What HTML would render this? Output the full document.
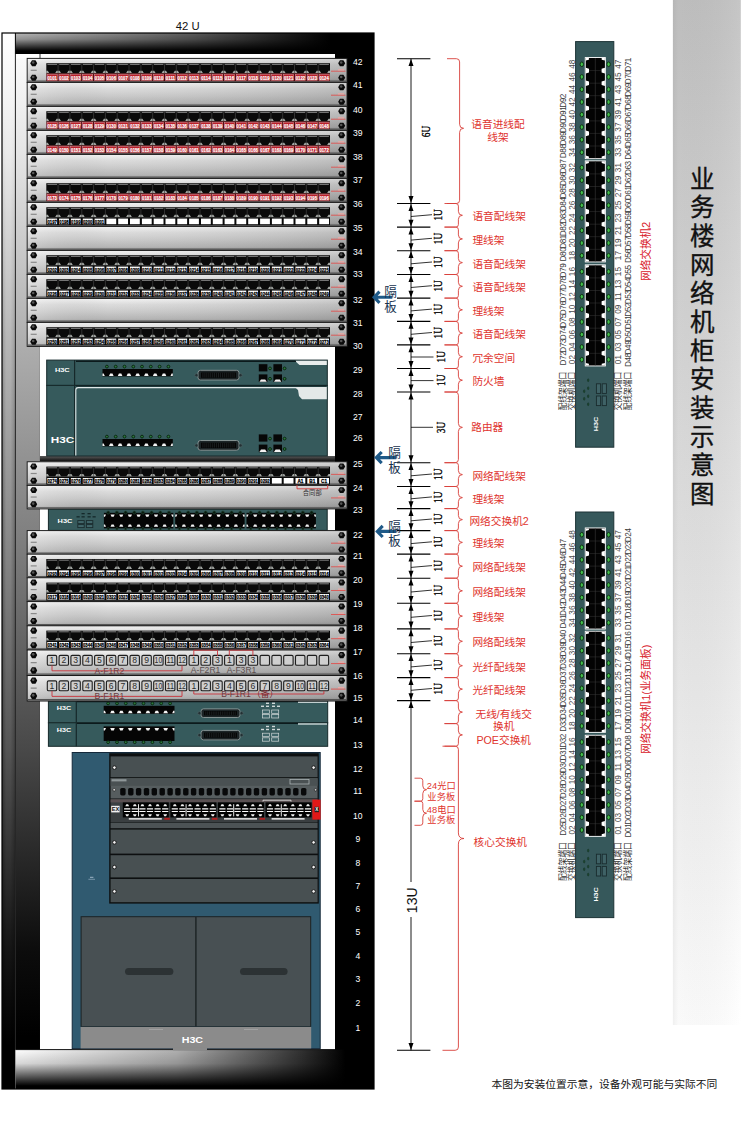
<!DOCTYPE html>
<html><head><meta charset="utf-8"><title>rack</title>
<style>
html,body{margin:0;padding:0;background:#fff}
body{width:742px;height:1122px;overflow:hidden;font-family:"Liberation Sans",sans-serif}
svg{display:block}
text{font-family:"Liberation Sans",sans-serif;text-anchor:middle}
.rn{font-size:8.6px;fill:#fff}
.tu{font-size:11.3px;fill:#111}
.lr{font-size:6px;font-weight:bold;fill:#fff;stroke:#fff;stroke-width:.2px}
.lw{font-size:6px;font-weight:bold;fill:#000;stroke:#000;stroke-width:.3px}
.fn{font-size:8.6px;fill:#2c2c2c}
.fq{fill:#cfcfcf;stroke:#1e1e1e;stroke-width:1.1}
.fl{font-size:8.6px;fill:#6a3c40}
.h3{font-weight:bold;fill:#fff}
.ex{font-size:5.6px;font-weight:bold;fill:#111}
.dl{fill:#0a1a10;stroke:#274a35;stroke-width:.6}
.sl{fill:#43c04c;stroke:#0b2a0e;stroke-width:.9}
.du{font-family:"Liberation Serif",serif;font-size:12.5px;fill:#000;stroke:#000;stroke-width:.35px}
.d13{font-size:14px;fill:#111}
.sn{font-size:8.2px;fill:#4a4a4a}
.sd{font-size:8.2px;fill:#3c3c3c;letter-spacing:-.45px}
.cj{font-family:"Liberation Sans","Noto Sans CJK SC",sans-serif}
.rs{font-family:"Liberation Sans","Noto Sans CJK SC",sans-serif;font-size:10.7px;fill:#e0342e;text-anchor:start}
.rm{font-family:"Liberation Sans","Noto Sans CJK SC",sans-serif;font-size:10.7px;fill:#e0342e}
.r9{font-family:"Liberation Sans","Noto Sans CJK SC",sans-serif;font-size:9.3px;fill:#e0342e}
.gb{font-family:"Liberation Sans","Noto Sans CJK SC",sans-serif;font-size:12.6px;fill:#16324e}
.sp{font-family:"Liberation Sans","Noto Sans CJK SC",sans-serif;font-size:8.8px;fill:#333}
</style></head><body>
<svg width="742" height="1122" viewBox="0 0 742 1122">
<defs>

<linearGradient id="gPanel" x1="0" y1="0" x2="0" y2="1">
<stop offset="0" stop-color="#f4f4f4"/><stop offset=".25" stop-color="#dcdcdc"/><stop offset=".55" stop-color="#cbcbcb"/><stop offset=".85" stop-color="#b6b6b6"/><stop offset="1" stop-color="#9c9c9c"/></linearGradient>
<linearGradient id="gPanelH" x1="0" y1="0" x2="1" y2="0">
<stop offset="0" stop-color="#fff" stop-opacity=".25"/><stop offset=".25" stop-color="#888" stop-opacity="0"/><stop offset="1" stop-color="#000" stop-opacity=".14"/></linearGradient>
<linearGradient id="gCyl" x1="0" y1="0" x2="1" y2="0">
<stop offset="0" stop-color="#000" stop-opacity=".3"/><stop offset=".3" stop-color="#000" stop-opacity="0"/><stop offset=".65" stop-color="#000" stop-opacity="0"/><stop offset="1" stop-color="#000" stop-opacity=".25"/></linearGradient>
<linearGradient id="gMaskV" gradientUnits="userSpaceOnUse" x1="0" y1="100" x2="0" y2="520">
<stop offset="0" stop-color="#000"/><stop offset="1" stop-color="#fff"/></linearGradient>
<mask id="mCyl" maskUnits="userSpaceOnUse" x="0" y="0" width="20" height="1122"><rect x="0" y="0" width="20" height="1122" fill="url(#gMaskV)"/></mask>
<linearGradient id="gLeft" gradientUnits="userSpaceOnUse" x1="0" y1="33" x2="0" y2="1089">
<stop offset="0" stop-color="#fff"/><stop offset=".11" stop-color="#ebebeb"/><stop offset=".3" stop-color="#b4b4b4"/><stop offset=".49" stop-color="#868686"/><stop offset=".68" stop-color="#545454"/><stop offset=".87" stop-color="#141414"/><stop offset=".96" stop-color="#000"/></linearGradient>
<linearGradient id="gRail" gradientUnits="userSpaceOnUse" x1="0" y1="33" x2="0" y2="1089">
<stop offset="0" stop-color="#fff"/><stop offset=".11" stop-color="#e6e6e6"/><stop offset=".3" stop-color="#acacac"/><stop offset=".49" stop-color="#7c7c7c"/><stop offset=".68" stop-color="#484848"/><stop offset=".87" stop-color="#0c0c0c"/><stop offset=".95" stop-color="#000"/></linearGradient>
<linearGradient id="gTopH" gradientUnits="userSpaceOnUse" x1="15" y1="0" x2="374" y2="0">
<stop offset="0" stop-color="#b8b8b8"/><stop offset=".5" stop-color="#5a5a5a"/><stop offset=".88" stop-color="#000"/></linearGradient>
<linearGradient id="gTopV" x1="0" y1="0" x2="0" y2="1">
<stop offset="0" stop-color="#000" stop-opacity="0"/><stop offset=".3" stop-color="#000" stop-opacity=".2"/><stop offset=".85" stop-color="#000" stop-opacity="1"/></linearGradient>
<linearGradient id="gBotH" gradientUnits="userSpaceOnUse" x1="15" y1="0" x2="374" y2="0">
<stop offset="0" stop-color="#fff"/><stop offset=".45" stop-color="#b0b0b0"/><stop offset=".8" stop-color="#303030"/><stop offset=".92" stop-color="#000"/></linearGradient>
<linearGradient id="gBotV" x1="0" y1="0" x2="0" y2="1">
<stop offset="0" stop-color="#000" stop-opacity="0"/><stop offset=".35" stop-color="#000" stop-opacity=".15"/><stop offset=".65" stop-color="#000" stop-opacity=".6"/><stop offset=".92" stop-color="#000" stop-opacity="1"/></linearGradient>
<linearGradient id="gTitleH" x1="0" y1="0" x2="0" y2="1">
<stop offset="0" stop-color="#c1c1c1"/><stop offset="1" stop-color="#fff"/></linearGradient>
<linearGradient id="gTitleV" x1="0" y1="0" x2="1" y2="0">
<stop offset="0" stop-color="#000" stop-opacity=".06"/><stop offset=".08" stop-color="#000" stop-opacity=".02"/><stop offset="1" stop-color="#fff" stop-opacity=".08"/></linearGradient>
<linearGradient id="gShelf" x1="0" y1="0" x2="0" y2="1">
<stop offset="0" stop-color="#5a5a5a"/><stop offset="1" stop-color="#0a0a0a"/></linearGradient>

<g id="pb">
<rect x="27.2" y="0" width="319.8" height="24" fill="url(#gPanel)" stroke="#1a1a1a"/>
<rect x="27.7" y="0.5" width="318.8" height="23" fill="url(#gPanelH)"/>
<path d="M27.7 22.8L346.5 22.8" stroke="#555" stroke-width="1.2" />
<path d="M37.2 4.8L35.5 7.8L32 7.8L30.2 4.8L32 1.8L35.5 1.8z" fill="#0a0a0a" />
<circle cx="33.2" cy="4.1" r="1.3" fill="#555"/>
<path d="M37.2 19.3L35.5 22.3L32 22.3L30.2 19.3L32 16.3L35.5 16.3z" fill="#0a0a0a" />
<circle cx="33.2" cy="18.6" r="1.3" fill="#555"/>
<path d="M345.2 4.8L343.4 7.8L339.9 7.8L338.2 4.8L339.9 1.8L343.4 1.8z" fill="#0a0a0a" />
<circle cx="341.2" cy="4.1" r="1.3" fill="#555"/>
<path d="M345.2 19.3L343.4 22.3L339.9 22.3L338.2 19.3L339.9 16.3L343.4 16.3z" fill="#0a0a0a" />
<circle cx="341.2" cy="18.6" r="1.3" fill="#555"/>
<rect x="30.7" y="11.3" width="6" height="1.2" fill="#8a8a8a"/>
<path d="M331 12.8L345.5 12.8" stroke="#e0504e" stroke-width="0.9" />
<rect x="338" y="10.8" width="6" height="1.2" fill="#e9a9a6"/>
</g>
<g id="pp">
<rect x="46.3" y="4.8" width="283.7" height="10" fill="#0a0a0a"/>
<path d="M47.4 6h9.6M59.2 6h9.6M71 6h9.6M82.9 6h9.6M94.7 6h9.6M106.5 6h9.6M118.3 6h9.6M130.1 6h9.6M142 6h9.6M153.8 6h9.6M165.6 6h9.6M177.4 6h9.6M189.2 6h9.6M201.1 6h9.6M212.9 6h9.6M224.7 6h9.6M236.5 6h9.6M248.3 6h9.6M260.2 6h9.6M272 6h9.6M283.8 6h9.6M295.6 6h9.6M307.4 6h9.6M319.3 6h9.6" stroke="#8f8f8f" stroke-width="0.9"/>
<path d="M46.3 14.8L46.3 12.3L47.8 12.3L49.3 14.8zM55.1 14.8L56.6 12.3L59.6 12.3L61.1 14.8zM66.9 14.8L68.4 12.3L71.4 12.3L72.9 14.8zM78.8 14.8L80.3 12.3L83.3 12.3L84.8 14.8zM90.6 14.8L92.1 12.3L95.1 12.3L96.6 14.8zM102.4 14.8L103.9 12.3L106.9 12.3L108.4 14.8zM114.2 14.8L115.7 12.3L118.7 12.3L120.2 14.8zM126 14.8L127.5 12.3L130.5 12.3L132 14.8zM137.9 14.8L139.4 12.3L142.4 12.3L143.9 14.8zM149.7 14.8L151.2 12.3L154.2 12.3L155.7 14.8zM161.5 14.8L163 12.3L166 12.3L167.5 14.8zM173.3 14.8L174.8 12.3L177.8 12.3L179.3 14.8zM185.1 14.8L186.6 12.3L189.6 12.3L191.1 14.8zM197 14.8L198.5 12.3L201.5 12.3L203 14.8zM208.8 14.8L210.3 12.3L213.3 12.3L214.8 14.8zM220.6 14.8L222.1 12.3L225.1 12.3L226.6 14.8zM232.4 14.8L233.9 12.3L236.9 12.3L238.4 14.8zM244.2 14.8L245.7 12.3L248.7 12.3L250.2 14.8zM256.1 14.8L257.6 12.3L260.6 12.3L262.1 14.8zM267.9 14.8L269.4 12.3L272.4 12.3L273.9 14.8zM279.7 14.8L281.2 12.3L284.2 12.3L285.7 14.8zM291.5 14.8L293 12.3L296 12.3L297.5 14.8zM303.3 14.8L304.8 12.3L307.8 12.3L309.3 14.8zM315.2 14.8L316.7 12.3L319.7 12.3L321.2 14.8zM327 14.8L328.5 12.3L330 12.3L330 14.8z" fill="#a4a8a4"/>
<path d="M58.1 5v9.8M69.9 5v9.8M81.8 5v9.8M93.6 5v9.8M105.4 5v9.8M117.2 5v9.8M129 5v9.8M140.9 5v9.8M152.7 5v9.8M164.5 5v9.8M176.3 5v9.8M188.1 5v9.8M200 5v9.8M211.8 5v9.8M223.6 5v9.8M235.4 5v9.8M247.2 5v9.8M259.1 5v9.8M270.9 5v9.8M282.7 5v9.8M294.5 5v9.8M306.3 5v9.8M318.2 5v9.8" stroke="#444" stroke-width="0.7"/>
</g>
<g id="rl">
<rect x="46.3" y="14.8" width="283.7" height="8" fill="#4a0a0e"/>
<rect x="47.1" y="16" width="10.2" height="6" fill="#bb1f2a" stroke="#e89aa0" stroke-width=".5"/>
<rect x="58.9" y="16" width="10.2" height="6" fill="#bb1f2a" stroke="#e89aa0" stroke-width=".5"/>
<rect x="70.7" y="16" width="10.2" height="6" fill="#bb1f2a" stroke="#e89aa0" stroke-width=".5"/>
<rect x="82.6" y="16" width="10.2" height="6" fill="#bb1f2a" stroke="#e89aa0" stroke-width=".5"/>
<rect x="94.4" y="16" width="10.2" height="6" fill="#bb1f2a" stroke="#e89aa0" stroke-width=".5"/>
<rect x="106.2" y="16" width="10.2" height="6" fill="#bb1f2a" stroke="#e89aa0" stroke-width=".5"/>
<rect x="118" y="16" width="10.2" height="6" fill="#bb1f2a" stroke="#e89aa0" stroke-width=".5"/>
<rect x="129.8" y="16" width="10.2" height="6" fill="#bb1f2a" stroke="#e89aa0" stroke-width=".5"/>
<rect x="141.7" y="16" width="10.2" height="6" fill="#bb1f2a" stroke="#e89aa0" stroke-width=".5"/>
<rect x="153.5" y="16" width="10.2" height="6" fill="#bb1f2a" stroke="#e89aa0" stroke-width=".5"/>
<rect x="165.3" y="16" width="10.2" height="6" fill="#bb1f2a" stroke="#e89aa0" stroke-width=".5"/>
<rect x="177.1" y="16" width="10.2" height="6" fill="#bb1f2a" stroke="#e89aa0" stroke-width=".5"/>
<rect x="188.9" y="16" width="10.2" height="6" fill="#bb1f2a" stroke="#e89aa0" stroke-width=".5"/>
<rect x="200.8" y="16" width="10.2" height="6" fill="#bb1f2a" stroke="#e89aa0" stroke-width=".5"/>
<rect x="212.6" y="16" width="10.2" height="6" fill="#bb1f2a" stroke="#e89aa0" stroke-width=".5"/>
<rect x="224.4" y="16" width="10.2" height="6" fill="#bb1f2a" stroke="#e89aa0" stroke-width=".5"/>
<rect x="236.2" y="16" width="10.2" height="6" fill="#bb1f2a" stroke="#e89aa0" stroke-width=".5"/>
<rect x="248" y="16" width="10.2" height="6" fill="#bb1f2a" stroke="#e89aa0" stroke-width=".5"/>
<rect x="259.9" y="16" width="10.2" height="6" fill="#bb1f2a" stroke="#e89aa0" stroke-width=".5"/>
<rect x="271.7" y="16" width="10.2" height="6" fill="#bb1f2a" stroke="#e89aa0" stroke-width=".5"/>
<rect x="283.5" y="16" width="10.2" height="6" fill="#bb1f2a" stroke="#e89aa0" stroke-width=".5"/>
<rect x="295.3" y="16" width="10.2" height="6" fill="#bb1f2a" stroke="#e89aa0" stroke-width=".5"/>
<rect x="307.1" y="16" width="10.2" height="6" fill="#bb1f2a" stroke="#e89aa0" stroke-width=".5"/>
<rect x="319" y="16" width="10.2" height="6" fill="#bb1f2a" stroke="#e89aa0" stroke-width=".5"/>
</g>
<g id="wl">
<rect x="46.3" y="14.8" width="283.7" height="8" fill="#0a0a0a"/>
<rect x="47.3" y="16.2" width="9.8" height="5.6" fill="#fff"/>
<rect x="59.1" y="16.2" width="9.8" height="5.6" fill="#fff"/>
<rect x="70.9" y="16.2" width="9.8" height="5.6" fill="#fff"/>
<rect x="82.8" y="16.2" width="9.8" height="5.6" fill="#fff"/>
<rect x="94.6" y="16.2" width="9.8" height="5.6" fill="#fff"/>
<rect x="106.4" y="16.2" width="9.8" height="5.6" fill="#fff"/>
<rect x="118.2" y="16.2" width="9.8" height="5.6" fill="#fff"/>
<rect x="130" y="16.2" width="9.8" height="5.6" fill="#fff"/>
<rect x="141.9" y="16.2" width="9.8" height="5.6" fill="#fff"/>
<rect x="153.7" y="16.2" width="9.8" height="5.6" fill="#fff"/>
<rect x="165.5" y="16.2" width="9.8" height="5.6" fill="#fff"/>
<rect x="177.3" y="16.2" width="9.8" height="5.6" fill="#fff"/>
<rect x="189.1" y="16.2" width="9.8" height="5.6" fill="#fff"/>
<rect x="201" y="16.2" width="9.8" height="5.6" fill="#fff"/>
<rect x="212.8" y="16.2" width="9.8" height="5.6" fill="#fff"/>
<rect x="224.6" y="16.2" width="9.8" height="5.6" fill="#fff"/>
<rect x="236.4" y="16.2" width="9.8" height="5.6" fill="#fff"/>
<rect x="248.2" y="16.2" width="9.8" height="5.6" fill="#fff"/>
<rect x="260.1" y="16.2" width="9.8" height="5.6" fill="#fff"/>
<rect x="271.9" y="16.2" width="9.8" height="5.6" fill="#fff"/>
<rect x="283.7" y="16.2" width="9.8" height="5.6" fill="#fff"/>
<rect x="295.5" y="16.2" width="9.8" height="5.6" fill="#fff"/>
<rect x="307.3" y="16.2" width="9.8" height="5.6" fill="#fff"/>
<rect x="319.2" y="16.2" width="9.8" height="5.6" fill="#fff"/>
</g>
<g id="led">
<circle r="1.4" fill="#2a7a3c" stroke="#08200c" stroke-width=".9"/>
</g>
<g id="sw">
<rect x="575.6" y="0" width="38.2" height="405.6" fill="#36585b" stroke="#1d3336"/>
<rect x="584.8" y="15.5" width="21" height="102" fill="#fff"/>
<rect x="585.7" y="16.4" width="19.2" height="100.2" fill="#030303"/>
<path d="M595.3 16.5L595.3 116.5" stroke="#333" stroke-width="0.7" />
<ellipse cx="581.8" cy="22.7" rx="1.7" ry="2.3" class="sl"/>
<ellipse cx="608.6" cy="22.7" rx="1.7" ry="2.3" class="sl"/>
<text transform="translate(572 22.7) rotate(-90)" y="2.9" class="sn" >48</text>
<text transform="translate(618.2 22.7) rotate(-90)" y="2.9" class="sn" >47</text>
<ellipse cx="581.8" cy="35.3" rx="1.7" ry="2.3" class="sl"/>
<ellipse cx="608.6" cy="35.3" rx="1.7" ry="2.3" class="sl"/>
<text transform="translate(572 35.3) rotate(-90)" y="2.9" class="sn" >46</text>
<text transform="translate(618.2 35.3) rotate(-90)" y="2.9" class="sn" >45</text>
<ellipse cx="581.8" cy="47.8" rx="1.7" ry="2.3" class="sl"/>
<ellipse cx="608.6" cy="47.8" rx="1.7" ry="2.3" class="sl"/>
<text transform="translate(572 47.8) rotate(-90)" y="2.9" class="sn" >44</text>
<text transform="translate(618.2 47.8) rotate(-90)" y="2.9" class="sn" >43</text>
<ellipse cx="581.8" cy="60.4" rx="1.7" ry="2.3" class="sl"/>
<ellipse cx="608.6" cy="60.4" rx="1.7" ry="2.3" class="sl"/>
<text transform="translate(572 60.4) rotate(-90)" y="2.9" class="sn" >42</text>
<text transform="translate(618.2 60.4) rotate(-90)" y="2.9" class="sn" >41</text>
<ellipse cx="581.8" cy="73" rx="1.7" ry="2.3" class="sl"/>
<ellipse cx="608.6" cy="73" rx="1.7" ry="2.3" class="sl"/>
<text transform="translate(572 73) rotate(-90)" y="2.9" class="sn" >40</text>
<text transform="translate(618.2 73) rotate(-90)" y="2.9" class="sn" >39</text>
<ellipse cx="581.8" cy="85.5" rx="1.7" ry="2.3" class="sl"/>
<ellipse cx="608.6" cy="85.5" rx="1.7" ry="2.3" class="sl"/>
<text transform="translate(572 85.5) rotate(-90)" y="2.9" class="sn" >38</text>
<text transform="translate(618.2 85.5) rotate(-90)" y="2.9" class="sn" >37</text>
<ellipse cx="581.8" cy="98.1" rx="1.7" ry="2.3" class="sl"/>
<ellipse cx="608.6" cy="98.1" rx="1.7" ry="2.3" class="sl"/>
<text transform="translate(572 98.1) rotate(-90)" y="2.9" class="sn" >36</text>
<text transform="translate(618.2 98.1) rotate(-90)" y="2.9" class="sn" >35</text>
<ellipse cx="581.8" cy="110.7" rx="1.7" ry="2.3" class="sl"/>
<ellipse cx="608.6" cy="110.7" rx="1.7" ry="2.3" class="sl"/>
<text transform="translate(572 110.7) rotate(-90)" y="2.9" class="sn" >34</text>
<text transform="translate(618.2 110.7) rotate(-90)" y="2.9" class="sn" >33</text>
<rect x="584.8" y="118.8" width="21" height="102" fill="#fff"/>
<rect x="585.7" y="119.7" width="19.2" height="100.2" fill="#030303"/>
<path d="M595.3 119.8L595.3 219.8" stroke="#333" stroke-width="0.7" />
<ellipse cx="581.8" cy="126" rx="1.7" ry="2.3" class="sl"/>
<ellipse cx="608.6" cy="126" rx="1.7" ry="2.3" class="sl"/>
<text transform="translate(572 126) rotate(-90)" y="2.9" class="sn" >32</text>
<text transform="translate(618.2 126) rotate(-90)" y="2.9" class="sn" >31</text>
<ellipse cx="581.8" cy="138.6" rx="1.7" ry="2.3" class="sl"/>
<ellipse cx="608.6" cy="138.6" rx="1.7" ry="2.3" class="sl"/>
<text transform="translate(572 138.6) rotate(-90)" y="2.9" class="sn" >30</text>
<text transform="translate(618.2 138.6) rotate(-90)" y="2.9" class="sn" >29</text>
<ellipse cx="581.8" cy="151.1" rx="1.7" ry="2.3" class="sl"/>
<ellipse cx="608.6" cy="151.1" rx="1.7" ry="2.3" class="sl"/>
<text transform="translate(572 151.1) rotate(-90)" y="2.9" class="sn" >28</text>
<text transform="translate(618.2 151.1) rotate(-90)" y="2.9" class="sn" >27</text>
<ellipse cx="581.8" cy="163.7" rx="1.7" ry="2.3" class="sl"/>
<ellipse cx="608.6" cy="163.7" rx="1.7" ry="2.3" class="sl"/>
<text transform="translate(572 163.7) rotate(-90)" y="2.9" class="sn" >26</text>
<text transform="translate(618.2 163.7) rotate(-90)" y="2.9" class="sn" >25</text>
<ellipse cx="581.8" cy="176.3" rx="1.7" ry="2.3" class="sl"/>
<ellipse cx="608.6" cy="176.3" rx="1.7" ry="2.3" class="sl"/>
<text transform="translate(572 176.3) rotate(-90)" y="2.9" class="sn" >24</text>
<text transform="translate(618.2 176.3) rotate(-90)" y="2.9" class="sn" >23</text>
<ellipse cx="581.8" cy="188.8" rx="1.7" ry="2.3" class="sl"/>
<ellipse cx="608.6" cy="188.8" rx="1.7" ry="2.3" class="sl"/>
<text transform="translate(572 188.8) rotate(-90)" y="2.9" class="sn" >22</text>
<text transform="translate(618.2 188.8) rotate(-90)" y="2.9" class="sn" >21</text>
<ellipse cx="581.8" cy="201.4" rx="1.7" ry="2.3" class="sl"/>
<ellipse cx="608.6" cy="201.4" rx="1.7" ry="2.3" class="sl"/>
<text transform="translate(572 201.4) rotate(-90)" y="2.9" class="sn" >20</text>
<text transform="translate(618.2 201.4) rotate(-90)" y="2.9" class="sn" >19</text>
<ellipse cx="581.8" cy="214" rx="1.7" ry="2.3" class="sl"/>
<ellipse cx="608.6" cy="214" rx="1.7" ry="2.3" class="sl"/>
<text transform="translate(572 214) rotate(-90)" y="2.9" class="sn" >18</text>
<text transform="translate(618.2 214) rotate(-90)" y="2.9" class="sn" >17</text>
<rect x="584.8" y="222.8" width="21" height="102" fill="#fff"/>
<rect x="585.7" y="223.7" width="19.2" height="100.2" fill="#030303"/>
<path d="M595.3 223.8L595.3 323.8" stroke="#333" stroke-width="0.7" />
<ellipse cx="581.8" cy="230" rx="1.7" ry="2.3" class="sl"/>
<ellipse cx="608.6" cy="230" rx="1.7" ry="2.3" class="sl"/>
<text transform="translate(572 230) rotate(-90)" y="2.9" class="sn" >16</text>
<text transform="translate(618.2 230) rotate(-90)" y="2.9" class="sn" >15</text>
<ellipse cx="581.8" cy="242.6" rx="1.7" ry="2.3" class="sl"/>
<ellipse cx="608.6" cy="242.6" rx="1.7" ry="2.3" class="sl"/>
<text transform="translate(572 242.6) rotate(-90)" y="2.9" class="sn" >14</text>
<text transform="translate(618.2 242.6) rotate(-90)" y="2.9" class="sn" >13</text>
<ellipse cx="581.8" cy="255.1" rx="1.7" ry="2.3" class="sl"/>
<ellipse cx="608.6" cy="255.1" rx="1.7" ry="2.3" class="sl"/>
<text transform="translate(572 255.1) rotate(-90)" y="2.9" class="sn" >12</text>
<text transform="translate(618.2 255.1) rotate(-90)" y="2.9" class="sn" >11</text>
<ellipse cx="581.8" cy="267.7" rx="1.7" ry="2.3" class="sl"/>
<ellipse cx="608.6" cy="267.7" rx="1.7" ry="2.3" class="sl"/>
<text transform="translate(572 267.7) rotate(-90)" y="2.9" class="sn" >10</text>
<text transform="translate(618.2 267.7) rotate(-90)" y="2.9" class="sn" >09</text>
<ellipse cx="581.8" cy="280.3" rx="1.7" ry="2.3" class="sl"/>
<ellipse cx="608.6" cy="280.3" rx="1.7" ry="2.3" class="sl"/>
<text transform="translate(572 280.3) rotate(-90)" y="2.9" class="sn" >08</text>
<text transform="translate(618.2 280.3) rotate(-90)" y="2.9" class="sn" >07</text>
<ellipse cx="581.8" cy="292.9" rx="1.7" ry="2.3" class="sl"/>
<ellipse cx="608.6" cy="292.9" rx="1.7" ry="2.3" class="sl"/>
<text transform="translate(572 292.9) rotate(-90)" y="2.9" class="sn" >06</text>
<text transform="translate(618.2 292.9) rotate(-90)" y="2.9" class="sn" >05</text>
<ellipse cx="581.8" cy="305.4" rx="1.7" ry="2.3" class="sl"/>
<ellipse cx="608.6" cy="305.4" rx="1.7" ry="2.3" class="sl"/>
<text transform="translate(572 305.4) rotate(-90)" y="2.9" class="sn" >04</text>
<text transform="translate(618.2 305.4) rotate(-90)" y="2.9" class="sn" >03</text>
<ellipse cx="581.8" cy="318" rx="1.7" ry="2.3" class="sl"/>
<ellipse cx="608.6" cy="318" rx="1.7" ry="2.3" class="sl"/>
<text transform="translate(572 318) rotate(-90)" y="2.9" class="sn" >02</text>
<text transform="translate(618.2 318) rotate(-90)" y="2.9" class="sn" >01</text>
<path d="M589 29H601.6M589 41.6H601.6M589 54.1H601.6M589 66.7H601.6M589 79.3H601.6M589 91.8H601.6M589 104.4H601.6M589 132.3H601.6M589 144.9H601.6M589 157.4H601.6M589 170H601.6M589 182.6H601.6M589 195.1H601.6M589 207.7H601.6M589 236.3H601.6M589 248.9H601.6M589 261.4H601.6M589 274H601.6M589 286.6H601.6M589 299.1H601.6M589 311.7H601.6" stroke="#3a3a3a" stroke-width=".5"/>
<path d="M585.7 16.4v2.6l3.2 -0.9v-1.7zM604.9 16.4v2.6l-3.2 -0.9v-1.7zM585.7 116.6v-2.6l3.2 0.9v1.7zM604.9 116.6v-2.6l-3.2 0.9v1.7zM585.7 26.2L589 27.2L589 30.8L585.7 31.8zM604.9 26.2L601.6 27.2L601.6 30.8L604.9 31.8zM585.7 38.8L589 39.8L589 43.4L585.7 44.4zM604.9 38.8L601.6 39.8L601.6 43.4L604.9 44.4zM585.7 51.3L589 52.3L589 55.9L585.7 56.9zM604.9 51.3L601.6 52.3L601.6 55.9L604.9 56.9zM585.7 63.9L589 64.9L589 68.5L585.7 69.5zM604.9 63.9L601.6 64.9L601.6 68.5L604.9 69.5zM585.7 76.5L589 77.5L589 81.1L585.7 82.1zM604.9 76.5L601.6 77.5L601.6 81.1L604.9 82.1zM585.7 89L589 90L589 93.6L585.7 94.6zM604.9 89L601.6 90L601.6 93.6L604.9 94.6zM585.7 101.6L589 102.6L589 106.2L585.7 107.2zM604.9 101.6L601.6 102.6L601.6 106.2L604.9 107.2zM585.7 119.7v2.6l3.2 -0.9v-1.7zM604.9 119.7v2.6l-3.2 -0.9v-1.7zM585.7 219.9v-2.6l3.2 0.9v1.7zM604.9 219.9v-2.6l-3.2 0.9v1.7zM585.7 129.5L589 130.5L589 134.1L585.7 135.1zM604.9 129.5L601.6 130.5L601.6 134.1L604.9 135.1zM585.7 142.1L589 143.1L589 146.7L585.7 147.7zM604.9 142.1L601.6 143.1L601.6 146.7L604.9 147.7zM585.7 154.6L589 155.6L589 159.2L585.7 160.2zM604.9 154.6L601.6 155.6L601.6 159.2L604.9 160.2zM585.7 167.2L589 168.2L589 171.8L585.7 172.8zM604.9 167.2L601.6 168.2L601.6 171.8L604.9 172.8zM585.7 179.8L589 180.8L589 184.4L585.7 185.4zM604.9 179.8L601.6 180.8L601.6 184.4L604.9 185.4zM585.7 192.3L589 193.3L589 196.9L585.7 197.9zM604.9 192.3L601.6 193.3L601.6 196.9L604.9 197.9zM585.7 204.9L589 205.9L589 209.5L585.7 210.5zM604.9 204.9L601.6 205.9L601.6 209.5L604.9 210.5zM585.7 223.7v2.6l3.2 -0.9v-1.7zM604.9 223.7v2.6l-3.2 -0.9v-1.7zM585.7 323.9v-2.6l3.2 0.9v1.7zM604.9 323.9v-2.6l-3.2 0.9v1.7zM585.7 233.5L589 234.5L589 238.1L585.7 239.1zM604.9 233.5L601.6 234.5L601.6 238.1L604.9 239.1zM585.7 246.1L589 247.1L589 250.7L585.7 251.7zM604.9 246.1L601.6 247.1L601.6 250.7L604.9 251.7zM585.7 258.6L589 259.6L589 263.2L585.7 264.2zM604.9 258.6L601.6 259.6L601.6 263.2L604.9 264.2zM585.7 271.2L589 272.2L589 275.8L585.7 276.8zM604.9 271.2L601.6 272.2L601.6 275.8L604.9 276.8zM585.7 283.8L589 284.8L589 288.4L585.7 289.4zM604.9 283.8L601.6 284.8L601.6 288.4L604.9 289.4zM585.7 296.3L589 297.3L589 300.9L585.7 301.9zM604.9 296.3L601.6 297.3L601.6 300.9L604.9 301.9zM585.7 308.9L589 309.9L589 313.5L585.7 314.5zM604.9 308.9L601.6 309.9L601.6 313.5L604.9 314.5z" fill="#fff"/>
<text transform="translate(566.4 349.6) rotate(-90)" class="sp" textLength="38.7" lengthAdjust="spacingAndGlyphs">配线架端口</text>
<text transform="translate(575.4 349.6) rotate(-90)" class="sp" textLength="38.7" lengthAdjust="spacingAndGlyphs">交换机端口</text>
<text transform="translate(621.4 349.6) rotate(-90)" class="sp" textLength="38.7" lengthAdjust="spacingAndGlyphs">交换机端口</text>
<text transform="translate(631 349.6) rotate(-90)" class="sp" textLength="38.7" lengthAdjust="spacingAndGlyphs">配线架端口</text>
<rect x="596.4" y="342.2" width="4.2" height="9.6" fill="#3f6266" stroke="#1a2c2e" stroke-width=".9"/>
<rect x="602.2" y="342.2" width="4.2" height="9.6" fill="#3f6266" stroke="#1a2c2e" stroke-width=".9"/>
<rect x="596.4" y="354.4" width="4.2" height="9.6" fill="#3f6266" stroke="#1a2c2e" stroke-width=".9"/>
<rect x="602.2" y="354.4" width="4.2" height="9.6" fill="#3f6266" stroke="#1a2c2e" stroke-width=".9"/>
<ellipse cx="588.2" cy="338.6" rx=".8" ry="1.5" fill="#1e4a2c" stroke="#15302a" stroke-width=".5"/>
<ellipse cx="588.2" cy="346.6" rx=".8" ry="1.5" fill="#1e4a2c" stroke="#15302a" stroke-width=".5"/>
<ellipse cx="588.2" cy="354.6" rx=".8" ry="1.5" fill="#1e4a2c" stroke="#15302a" stroke-width=".5"/>
<ellipse cx="588.2" cy="362.6" rx=".8" ry="1.5" fill="#1e4a2c" stroke="#15302a" stroke-width=".5"/>
<ellipse cx="584.2" cy="349.6" rx=".8" ry="1.5" fill="#1e4a2c" stroke="#15302a" stroke-width=".5"/>
<ellipse cx="584.2" cy="357.2" rx=".8" ry="1.5" fill="#1e4a2c" stroke="#15302a" stroke-width=".5"/>
<g transform="translate(596 382.4) rotate(-90)">
<text x="0" y="2" class="h3" font-size="5.6" textLength="14.3" lengthAdjust="spacingAndGlyphs">H3C</text>
</g>
</g>
</defs>
<rect width="742" height="1122" fill="#fff"/>
<rect x="672.9" y="0" width="67.9" height="1025" fill="url(#gTitleH)"/>
<rect x="672.9" y="0" width="67.9" height="1025" fill="url(#gTitleV)"/>
<text class="cj" font-size="24.5" fill="#111" stroke="#111" stroke-width=".34"><tspan x="702.3" y="187.51">业</tspan><tspan x="702.3" y="216.19">务</tspan><tspan x="702.3" y="244.87">楼</tspan><tspan x="702.3" y="273.55">网</tspan><tspan x="702.3" y="302.23">络</tspan><tspan x="702.3" y="330.91">机</tspan><tspan x="702.3" y="359.59">柜</tspan><tspan x="702.3" y="388.27">安</tspan><tspan x="702.3" y="416.95">装</tspan><tspan x="702.3" y="445.63">示</tspan><tspan x="702.3" y="474.31">意</tspan><tspan x="702.3" y="502.99">图</tspan></text>
<rect x="2" y="33" width="13.4" height="1056" fill="url(#gLeft)"/>
<rect x="2" y="33" width="13.4" height="1056" fill="url(#gCyl)" mask="url(#mCyl)"/>
<rect x="15.4" y="33" width="24.6" height="1056" fill="url(#gRail)"/>
<path d="M40.4 58L40.4 1049.6" stroke="#151515" stroke-width="1" />
<rect x="40" y="54" width="295" height="996" fill="#fff"/>
<rect x="335" y="33" width="39" height="1056" fill="#000"/>
<rect x="15.4" y="33" width="358.6" height="21" fill="url(#gTopH)"/>
<rect x="15.4" y="33" width="358.6" height="21" fill="url(#gTopV)"/>
<rect x="15.4" y="54" width="319.6" height="4.4" fill="#fff"/>
<path d="M40 54L40 58.4" stroke="#000" stroke-width="0.8" />
<path d="M15.4 54L15.4 1049" stroke="#222" stroke-width="1" />
<rect x="15.4" y="1049.6" width="358.6" height="39.4" fill="url(#gBotH)"/>
<rect x="15.4" y="1049.6" width="358.6" height="39.4" fill="url(#gBotV)"/>
<path d="M15.4 1049.6L335 1049.6" stroke="#111" stroke-width="1" />
<rect x="2" y="33" width="372" height="1056" fill="none" stroke="#000" stroke-width="1.2"/>
<path d="M15.4 33L15.4 54" stroke="#000" stroke-width="1" />
<rect x="40" y="456" width="295" height="5.6" fill="url(#gShelf)"/>
<rect x="46.7" y="360.1" width="280.6" height="25.3" fill="#365a5c" stroke="#16282a"/>
<path d="M74.6 360.1L74.6 385.4" stroke="#16282a" stroke-width="1.2" />
<path d="M295 360.7L326.8 360.7L326.8 365.1L299.5 365.1L297 362.7z" fill="#e8ecec" />
<path d="M76 361.2L296 361.2" stroke="#0c1a1c" stroke-width="1.4" />
<text x="62.3" y="372.1" class="h3" font-size="5.8" textLength="14.8" lengthAdjust="spacingAndGlyphs">H3C</text>
<rect x="102.5" y="369" width="70.3" height="7.4" fill="#050505"/>
<use href="#led" x="106.9" y="366.6"/>
<use href="#led" x="115.7" y="366.6"/>
<use href="#led" x="124.5" y="366.6"/>
<use href="#led" x="133.3" y="366.6"/>
<use href="#led" x="142" y="366.6"/>
<use href="#led" x="150.8" y="366.6"/>
<use href="#led" x="159.6" y="366.6"/>
<use href="#led" x="168.4" y="366.6"/>
<path d="M102.5 375.9L102.5 373.4L103.7 373.4L104.8 375.9zM109 375.9L110.1 373.4L112.5 373.4L113.6 375.9zM117.8 375.9L118.9 373.4L121.3 373.4L122.4 375.9zM126.6 375.9L127.7 373.4L130.1 373.4L131.2 375.9zM135.3 375.9L136.5 373.4L138.8 373.4L140 375.9zM144.1 375.9L145.2 373.4L147.6 373.4L148.7 375.9zM152.9 375.9L154 373.4L156.4 373.4L157.5 375.9zM161.7 375.9L162.8 373.4L165.2 373.4L166.3 375.9zM170.5 375.9L171.6 373.4L172.8 373.4L172.8 375.9z" fill="#f4f4f4"/>
<rect x="198" y="370.3" width="41" height="9.7" rx="2.5" fill="#1c2426" stroke="#9aa4a4" stroke-width=".8"/>
<circle cx="196.4" cy="375.2" r="1.6" fill="#223033" stroke="#54686a" stroke-width=".6"/>
<circle cx="240.6" cy="375.2" r="1.6" fill="#223033" stroke="#54686a" stroke-width=".6"/>
<rect x="201" y="372.5" width="35" height="5.3" fill="#050505"/>
<path d="M202.9 372.9v4.5M204.9 372.9v4.5M206.8 372.9v4.5M208.8 372.9v4.5M210.7 372.9v4.5M212.7 372.9v4.5M214.6 372.9v4.5M216.6 372.9v4.5M218.5 372.9v4.5M220.4 372.9v4.5M222.4 372.9v4.5M224.3 372.9v4.5M226.3 372.9v4.5M228.2 372.9v4.5M230.2 372.9v4.5M232.1 372.9v4.5M234.1 372.9v4.5" stroke="#3a4446" stroke-width=".4"/>
<rect x="258.8" y="364.2" width="8.6" height="7.2" fill="#070707"/>
<use href="#led" x="270" y="368.4"/>
<rect x="258.8" y="374.4" width="8.6" height="7.6" fill="#070707"/>
<path d="M259.4 381.8L261 379.4L265.2 379.4L266.8 381.8z" fill="#f2f2f2" />
<use href="#led" x="270" y="378.8"/>
<rect x="273.4" y="364.2" width="8.6" height="7.2" fill="#070707"/>
<use href="#led" x="284.6" y="368.4"/>
<rect x="273.4" y="374.4" width="8.6" height="7.6" fill="#070707"/>
<path d="M274 381.8L275.6 379.4L279.8 379.4L281.4 381.8z" fill="#f2f2f2" />
<use href="#led" x="284.6" y="378.8"/>
<rect x="46.7" y="385.4" width="280.6" height="70.6" fill="#365a5c" stroke="#16282a"/>
<path d="M74.6 385.4L74.6 456" stroke="#16282a" stroke-width="1.2" />
<path d="M75.8 455.5L75.8 390Q75.8 387.6 78.2 387.6L296 387.6" fill="none" stroke="#dfe8e8" stroke-width="1.1"/>
<path d="M294.5 387L326.8 387L326.8 399.2L302 399.2L299 395.9L298 389.9z" fill="#e4e8e8" />
<path d="M76 386L326 386" stroke="#0c1a1c" stroke-width="1.2" />
<text x="62.5" y="443.3" class="h3" font-size="9.2" textLength="23.5" lengthAdjust="spacingAndGlyphs">H3C</text>
<rect x="102.5" y="439" width="70.3" height="7.4" fill="#050505"/>
<use href="#led" x="106.9" y="436.6"/>
<use href="#led" x="115.7" y="436.6"/>
<use href="#led" x="124.5" y="436.6"/>
<use href="#led" x="133.3" y="436.6"/>
<use href="#led" x="142" y="436.6"/>
<use href="#led" x="150.8" y="436.6"/>
<use href="#led" x="159.6" y="436.6"/>
<use href="#led" x="168.4" y="436.6"/>
<path d="M102.5 445.9L102.5 443.4L103.7 443.4L104.8 445.9zM109 445.9L110.1 443.4L112.5 443.4L113.6 445.9zM117.8 445.9L118.9 443.4L121.3 443.4L122.4 445.9zM126.6 445.9L127.7 443.4L130.1 443.4L131.2 445.9zM135.3 445.9L136.5 443.4L138.8 443.4L140 445.9zM144.1 445.9L145.2 443.4L147.6 443.4L148.7 445.9zM152.9 445.9L154 443.4L156.4 443.4L157.5 445.9zM161.7 445.9L162.8 443.4L165.2 443.4L166.3 445.9zM170.5 445.9L171.6 443.4L172.8 443.4L172.8 445.9z" fill="#f4f4f4"/>
<rect x="198" y="440.5" width="41" height="9.7" rx="2.5" fill="#1c2426" stroke="#9aa4a4" stroke-width=".8"/>
<circle cx="196.4" cy="445.4" r="1.6" fill="#223033" stroke="#54686a" stroke-width=".6"/>
<circle cx="240.6" cy="445.4" r="1.6" fill="#223033" stroke="#54686a" stroke-width=".6"/>
<rect x="201" y="442.7" width="35" height="5.3" fill="#050505"/>
<path d="M202.9 443.1v4.5M204.9 443.1v4.5M206.8 443.1v4.5M208.8 443.1v4.5M210.7 443.1v4.5M212.7 443.1v4.5M214.6 443.1v4.5M216.6 443.1v4.5M218.5 443.1v4.5M220.4 443.1v4.5M222.4 443.1v4.5M224.3 443.1v4.5M226.3 443.1v4.5M228.2 443.1v4.5M230.2 443.1v4.5M232.1 443.1v4.5M234.1 443.1v4.5" stroke="#3a4446" stroke-width=".4"/>
<rect x="258.8" y="434.4" width="8.6" height="7.2" fill="#070707"/>
<use href="#led" x="270" y="438.6"/>
<rect x="258.8" y="444.6" width="8.6" height="7.6" fill="#070707"/>
<path d="M259.4 452L261 449.6L265.2 449.6L266.8 452z" fill="#f2f2f2" />
<use href="#led" x="270" y="449"/>
<rect x="273.4" y="434.4" width="8.6" height="7.2" fill="#070707"/>
<use href="#led" x="284.6" y="438.6"/>
<rect x="273.4" y="444.6" width="8.6" height="7.6" fill="#070707"/>
<path d="M274 452L275.6 449.6L279.8 449.6L281.4 452z" fill="#f2f2f2" />
<use href="#led" x="284.6" y="449"/>
<rect x="48.4" y="508.9" width="278.8" height="21.5" fill="#365a5c" stroke="#16282a"/>
<text x="65" y="522.8" class="h3" font-size="5.8" textLength="14.8" lengthAdjust="spacingAndGlyphs">H3C</text>
<rect x="81.5" y="513" width="3.2" height="1.3" fill="#14282a"/>
<rect x="87.5" y="513" width="3.2" height="1.3" fill="#14282a"/>
<rect x="76.5" y="516.2" width="3.2" height="1.3" fill="#14282a"/>
<rect x="81.5" y="516.2" width="3.2" height="1.3" fill="#14282a"/>
<rect x="87.5" y="516.2" width="3.2" height="1.3" fill="#14282a"/>
<rect x="92.5" y="516.2" width="3.2" height="1.3" fill="#14282a"/>
<rect x="77.8" y="520.6" width="6.4" height="3" fill="#41666a" stroke="#1a2c2e" stroke-width=".9"/>
<rect x="86.4" y="520.6" width="6.4" height="3" fill="#41666a" stroke="#1a2c2e" stroke-width=".9"/>
<rect x="77.8" y="524.6" width="6.4" height="3" fill="#41666a" stroke="#1a2c2e" stroke-width=".9"/>
<rect x="86.4" y="524.6" width="6.4" height="3" fill="#41666a" stroke="#1a2c2e" stroke-width=".9"/>
<rect x="103.9" y="512.8" width="69.4" height="15.6" fill="#050505"/>
<circle cx="108.2" cy="512.5" r="1.6" class="dl"/>
<circle cx="108.2" cy="528.7" r="1.2" class="dl"/>
<circle cx="116.9" cy="512.5" r="1.6" class="dl"/>
<circle cx="116.9" cy="528.7" r="1.2" class="dl"/>
<circle cx="125.6" cy="512.5" r="1.6" class="dl"/>
<circle cx="125.6" cy="528.7" r="1.2" class="dl"/>
<circle cx="134.3" cy="512.5" r="1.6" class="dl"/>
<circle cx="134.3" cy="528.7" r="1.2" class="dl"/>
<circle cx="142.9" cy="512.5" r="1.6" class="dl"/>
<circle cx="142.9" cy="528.7" r="1.2" class="dl"/>
<circle cx="151.6" cy="512.5" r="1.6" class="dl"/>
<circle cx="151.6" cy="528.7" r="1.2" class="dl"/>
<circle cx="160.3" cy="512.5" r="1.6" class="dl"/>
<circle cx="160.3" cy="528.7" r="1.2" class="dl"/>
<circle cx="169" cy="512.5" r="1.6" class="dl"/>
<circle cx="169" cy="528.7" r="1.2" class="dl"/>
<rect x="175.2" y="512.8" width="69.4" height="15.6" fill="#050505"/>
<circle cx="179.5" cy="512.5" r="1.6" class="dl"/>
<circle cx="179.5" cy="528.7" r="1.2" class="dl"/>
<circle cx="188.2" cy="512.5" r="1.6" class="dl"/>
<circle cx="188.2" cy="528.7" r="1.2" class="dl"/>
<circle cx="196.9" cy="512.5" r="1.6" class="dl"/>
<circle cx="196.9" cy="528.7" r="1.2" class="dl"/>
<circle cx="205.6" cy="512.5" r="1.6" class="dl"/>
<circle cx="205.6" cy="528.7" r="1.2" class="dl"/>
<circle cx="214.2" cy="512.5" r="1.6" class="dl"/>
<circle cx="214.2" cy="528.7" r="1.2" class="dl"/>
<circle cx="222.9" cy="512.5" r="1.6" class="dl"/>
<circle cx="222.9" cy="528.7" r="1.2" class="dl"/>
<circle cx="231.6" cy="512.5" r="1.6" class="dl"/>
<circle cx="231.6" cy="528.7" r="1.2" class="dl"/>
<circle cx="240.3" cy="512.5" r="1.6" class="dl"/>
<circle cx="240.3" cy="528.7" r="1.2" class="dl"/>
<rect x="246.5" y="512.8" width="69.4" height="15.6" fill="#050505"/>
<circle cx="250.8" cy="512.5" r="1.6" class="dl"/>
<circle cx="250.8" cy="528.7" r="1.2" class="dl"/>
<circle cx="259.5" cy="512.5" r="1.6" class="dl"/>
<circle cx="259.5" cy="528.7" r="1.2" class="dl"/>
<circle cx="268.2" cy="512.5" r="1.6" class="dl"/>
<circle cx="268.2" cy="528.7" r="1.2" class="dl"/>
<circle cx="276.9" cy="512.5" r="1.6" class="dl"/>
<circle cx="276.9" cy="528.7" r="1.2" class="dl"/>
<circle cx="285.5" cy="512.5" r="1.6" class="dl"/>
<circle cx="285.5" cy="528.7" r="1.2" class="dl"/>
<circle cx="294.2" cy="512.5" r="1.6" class="dl"/>
<circle cx="294.2" cy="528.7" r="1.2" class="dl"/>
<circle cx="302.9" cy="512.5" r="1.6" class="dl"/>
<circle cx="302.9" cy="528.7" r="1.2" class="dl"/>
<circle cx="311.6" cy="512.5" r="1.6" class="dl"/>
<circle cx="311.6" cy="528.7" r="1.2" class="dl"/>
<path d="M103.9 514.4L103.9 516.8L105 516.8L106 514.4zM110.5 514.4L111.5 516.8L113.7 516.8L114.7 514.4zM119.2 514.4L120.2 516.8L122.3 516.8L123.3 514.4zM127.8 514.4L128.8 516.8L131 516.8L132 514.4zM136.5 514.4L137.5 516.8L139.7 516.8L140.7 514.4zM145.2 514.4L146.2 516.8L148.4 516.8L149.4 514.4zM153.9 514.4L154.9 516.8L157.1 516.8L158.1 514.4zM162.5 514.4L163.5 516.8L165.7 516.8L166.7 514.4zM171.2 514.4L172.2 516.8L173.3 516.8L173.3 514.4zM103.9 526.7L103.9 524.4L105 524.4L106 526.7zM110.5 526.7L111.5 524.4L113.7 524.4L114.7 526.7zM119.2 526.7L120.2 524.4L122.3 524.4L123.3 526.7zM127.8 526.7L128.8 524.4L131 524.4L132 526.7zM136.5 526.7L137.5 524.4L139.7 524.4L140.7 526.7zM145.2 526.7L146.2 524.4L148.4 524.4L149.4 526.7zM153.9 526.7L154.9 524.4L157.1 524.4L158.1 526.7zM162.5 526.7L163.5 524.4L165.7 524.4L166.7 526.7zM171.2 526.7L172.2 524.4L173.3 524.4L173.3 526.7zM175.2 514.4L175.2 516.8L176.3 516.8L177.3 514.4zM181.8 514.4L182.8 516.8L185 516.8L186 514.4zM190.5 514.4L191.5 516.8L193.7 516.8L194.7 514.4zM199.1 514.4L200.1 516.8L202.3 516.8L203.3 514.4zM207.8 514.4L208.8 516.8L211 516.8L212 514.4zM216.5 514.4L217.5 516.8L219.7 516.8L220.7 514.4zM225.2 514.4L226.2 516.8L228.4 516.8L229.4 514.4zM233.8 514.4L234.8 516.8L237 516.8L238 514.4zM242.5 514.4L243.5 516.8L244.6 516.8L244.6 514.4zM175.2 526.7L175.2 524.4L176.3 524.4L177.3 526.7zM181.8 526.7L182.8 524.4L185 524.4L186 526.7zM190.5 526.7L191.5 524.4L193.7 524.4L194.7 526.7zM199.1 526.7L200.1 524.4L202.3 524.4L203.3 526.7zM207.8 526.7L208.8 524.4L211 524.4L212 526.7zM216.5 526.7L217.5 524.4L219.7 524.4L220.7 526.7zM225.2 526.7L226.2 524.4L228.4 524.4L229.4 526.7zM233.8 526.7L234.8 524.4L237 524.4L238 526.7zM242.5 526.7L243.5 524.4L244.6 524.4L244.6 526.7zM246.5 514.4L246.5 516.8L247.6 516.8L248.6 514.4zM253.1 514.4L254.1 516.8L256.3 516.8L257.3 514.4zM261.8 514.4L262.8 516.8L265 516.8L266 514.4zM270.4 514.4L271.4 516.8L273.6 516.8L274.6 514.4zM279.1 514.4L280.1 516.8L282.3 516.8L283.3 514.4zM287.8 514.4L288.8 516.8L291 516.8L292 514.4zM296.4 514.4L297.4 516.8L299.7 516.8L300.7 514.4zM305.1 514.4L306.1 516.8L308.3 516.8L309.3 514.4zM313.8 514.4L314.8 516.8L315.9 516.8L315.9 514.4zM246.5 526.7L246.5 524.4L247.6 524.4L248.6 526.7zM253.1 526.7L254.1 524.4L256.3 524.4L257.3 526.7zM261.8 526.7L262.8 524.4L265 524.4L266 526.7zM270.4 526.7L271.4 524.4L273.6 524.4L274.6 526.7zM279.1 526.7L280.1 524.4L282.3 524.4L283.3 526.7zM287.8 526.7L288.8 524.4L291 524.4L292 526.7zM296.4 526.7L297.4 524.4L299.7 524.4L300.7 526.7zM305.1 526.7L306.1 524.4L308.3 524.4L309.3 526.7zM313.8 526.7L314.8 524.4L315.9 524.4L315.9 526.7z" fill="#f2f2f2"/>
<rect x="48.4" y="701" width="279.3" height="21.8" fill="#365a5c" stroke="#16282a"/>
<path d="M76.3 701L76.3 722.8" stroke="#16282a" stroke-width="1.2" />
<path d="M298 702.2L327 702.2" stroke="#e8eeee" stroke-width="1.2" />
<path d="M77 701.6L298 701.6" stroke="#0c1a1c" stroke-width="1.2" />
<text x="64" y="709.8" class="h3" font-size="5.6" textLength="14.3" lengthAdjust="spacingAndGlyphs">H3C</text>
<rect x="103.7" y="705.8" width="70.8" height="8" fill="#050505"/>
<use href="#led" x="108.1" y="703.4"/>
<use href="#led" x="117" y="703.4"/>
<use href="#led" x="125.8" y="703.4"/>
<use href="#led" x="134.7" y="703.4"/>
<use href="#led" x="143.5" y="703.4"/>
<use href="#led" x="152.4" y="703.4"/>
<use href="#led" x="161.2" y="703.4"/>
<use href="#led" x="170.1" y="703.4"/>
<path d="M103.7 713.3L103.7 710.8L104.9 710.8L106 713.3zM110.2 713.3L111.3 710.8L113.8 710.8L114.8 713.3zM119.1 713.3L120.2 710.8L122.6 710.8L123.7 713.3zM128 713.3L129.1 710.8L131.4 710.8L132.6 713.3zM136.8 713.3L137.9 710.8L140.3 710.8L141.4 713.3zM145.6 713.3L146.8 710.8L149.1 710.8L150.2 713.3zM154.5 713.3L155.6 710.8L158 710.8L159.1 713.3zM163.3 713.3L164.5 710.8L166.8 710.8L168 713.3zM172.2 713.3L173.3 710.8L174.5 710.8L174.5 713.3z" fill="#f4f4f4"/>
<rect x="201" y="708.9" width="39" height="8.6" rx="2.5" fill="#1c2426" stroke="#9aa4a4" stroke-width=".8"/>
<circle cx="199.4" cy="713.2" r="1.6" fill="#223033" stroke="#54686a" stroke-width=".6"/>
<circle cx="241.6" cy="713.2" r="1.6" fill="#223033" stroke="#54686a" stroke-width=".6"/>
<rect x="204" y="711.1" width="33" height="4.2" fill="#050505"/>
<path d="M205.8 711.5v3.4M207.7 711.5v3.4M209.5 711.5v3.4M211.3 711.5v3.4M213.2 711.5v3.4M215 711.5v3.4M216.8 711.5v3.4M218.7 711.5v3.4M220.5 711.5v3.4M222.3 711.5v3.4M224.2 711.5v3.4M226 711.5v3.4M227.8 711.5v3.4M229.7 711.5v3.4M231.5 711.5v3.4M233.3 711.5v3.4M235.2 711.5v3.4" stroke="#3a4446" stroke-width=".4"/>
<rect x="266" y="702.6" width="3" height="1.4" fill="#d0d8d8"/>
<rect x="272" y="702.6" width="3" height="1.4" fill="#d0d8d8"/>
<rect x="261" y="705.6" width="3" height="1.4" fill="#d0d8d8"/>
<rect x="266" y="705.6" width="3" height="1.4" fill="#d0d8d8"/>
<rect x="272" y="705.6" width="3" height="1.4" fill="#d0d8d8"/>
<rect x="277" y="705.6" width="3" height="1.4" fill="#d0d8d8"/>
<rect x="262.5" y="710" width="7" height="3.4" fill="#3d6468" stroke="#d0d8d8" stroke-width=".7"/>
<rect x="271.7" y="710" width="7" height="3.4" fill="#3d6468" stroke="#d0d8d8" stroke-width=".7"/>
<rect x="262.5" y="714.6" width="7" height="3.4" fill="#3d6468" stroke="#d0d8d8" stroke-width=".7"/>
<rect x="271.7" y="714.6" width="7" height="3.4" fill="#3d6468" stroke="#d0d8d8" stroke-width=".7"/>
<rect x="48.4" y="722.8" width="279.3" height="23.5" fill="#365a5c" stroke="#16282a"/>
<path d="M76.3 722.8L76.3 746.3" stroke="#16282a" stroke-width="1.2" />
<path d="M298 724L327 724" stroke="#e8eeee" stroke-width="1.2" />
<path d="M77 723.4L298 723.4" stroke="#0c1a1c" stroke-width="1.2" />
<text x="64" y="732.2" class="h3" font-size="5.6" textLength="14.3" lengthAdjust="spacingAndGlyphs">H3C</text>
<rect x="103.7" y="726.4" width="70.8" height="14.6" fill="#050505"/>
<use href="#led" x="108.1" y="742.2"/>
<use href="#led" x="117" y="742.2"/>
<use href="#led" x="125.8" y="742.2"/>
<use href="#led" x="134.7" y="742.2"/>
<use href="#led" x="143.5" y="742.2"/>
<use href="#led" x="152.4" y="742.2"/>
<use href="#led" x="161.2" y="742.2"/>
<use href="#led" x="170.1" y="742.2"/>
<path d="M103.7 728L103.7 730.6L104.9 730.6L106 728zM110.2 728L111.3 730.6L113.8 730.6L114.8 728zM119.1 728L120.2 730.6L122.6 730.6L123.7 728zM128 728L129.1 730.6L131.4 730.6L132.6 728zM136.8 728L137.9 730.6L140.3 730.6L141.4 728zM145.6 728L146.8 730.6L149.1 730.6L150.2 728zM154.5 728L155.6 730.6L158 730.6L159.1 728zM163.3 728L164.5 730.6L166.8 730.6L168 728zM172.2 728L173.3 730.6L174.5 730.6L174.5 728z" fill="#f4f4f4"/>
<rect x="201" y="730.4" width="39" height="9.5" rx="2.5" fill="#1c2426" stroke="#9aa4a4" stroke-width=".8"/>
<circle cx="199.4" cy="735.1" r="1.6" fill="#223033" stroke="#54686a" stroke-width=".6"/>
<circle cx="241.6" cy="735.1" r="1.6" fill="#223033" stroke="#54686a" stroke-width=".6"/>
<rect x="204" y="732.6" width="33" height="5.1" fill="#050505"/>
<path d="M205.8 733v4.3M207.7 733v4.3M209.5 733v4.3M211.3 733v4.3M213.2 733v4.3M215 733v4.3M216.8 733v4.3M218.7 733v4.3M220.5 733v4.3M222.3 733v4.3M224.2 733v4.3M226 733v4.3M227.8 733v4.3M229.7 733v4.3M231.5 733v4.3M233.3 733v4.3M235.2 733v4.3" stroke="#3a4446" stroke-width=".4"/>
<rect x="266" y="725.8" width="3" height="1.4" fill="#d0d8d8"/>
<rect x="272" y="725.8" width="3" height="1.4" fill="#d0d8d8"/>
<rect x="261" y="728.8" width="3" height="1.4" fill="#d0d8d8"/>
<rect x="266" y="728.8" width="3" height="1.4" fill="#d0d8d8"/>
<rect x="272" y="728.8" width="3" height="1.4" fill="#d0d8d8"/>
<rect x="277" y="728.8" width="3" height="1.4" fill="#d0d8d8"/>
<rect x="262.5" y="733.2" width="7" height="3.4" fill="#3d6468" stroke="#d0d8d8" stroke-width=".7"/>
<rect x="271.7" y="733.2" width="7" height="3.4" fill="#3d6468" stroke="#d0d8d8" stroke-width=".7"/>
<rect x="262.5" y="737.8" width="7" height="3.4" fill="#3d6468" stroke="#d0d8d8" stroke-width=".7"/>
<rect x="271.7" y="737.8" width="7" height="3.4" fill="#3d6468" stroke="#d0d8d8" stroke-width=".7"/>
<rect x="72.2" y="752.5" width="248" height="296.1" fill="#305a70" stroke="#14283a"/>
<rect x="109.2" y="753.2" width="209.6" height="150.4" fill="#0d0f10"/>
<rect x="110.6" y="756.4" width="207" height="20.8" fill="#485052"/>
<circle cx="114.4" cy="767.6" r="1.8" fill="#f4f4f4" stroke="#111" stroke-width=".9"/>
<circle cx="313.6" cy="767.6" r="1.8" fill="#f4f4f4" stroke="#111" stroke-width=".9"/>
<rect x="110.6" y="778.2" width="207" height="20.2" fill="#565d5f"/>
<rect x="110.6" y="778.2" width="207" height="7.6" fill="#4a5153"/>
<rect x="111.5" y="779.2" width="15" height="2.2" fill="#8f9799"/>
<rect x="290" y="779.4" width="19" height="4.6" fill="#4a5153" stroke="#aab2b4" stroke-width=".8"/>
<circle cx="114.2" cy="789.8" r="1.3" fill="#e8e8e8" stroke="#111" stroke-width=".6"/>
<circle cx="315.6" cy="789.8" r="1.3" fill="#c8c8c8" stroke="#111" stroke-width=".6"/>
<rect x="120.2" y="788" width="5.4" height="7.4" rx="1.6" fill="#08090a"/>
<rect x="128.1" y="788" width="5.4" height="7.4" rx="1.6" fill="#08090a"/>
<rect x="135.9" y="788" width="5.4" height="7.4" rx="1.6" fill="#08090a"/>
<rect x="143.8" y="788" width="5.4" height="7.4" rx="1.6" fill="#08090a"/>
<rect x="151.6" y="788" width="5.4" height="7.4" rx="1.6" fill="#08090a"/>
<rect x="159.5" y="788" width="5.4" height="7.4" rx="1.6" fill="#08090a"/>
<rect x="167.4" y="788" width="5.4" height="7.4" rx="1.6" fill="#08090a"/>
<rect x="175.2" y="788" width="5.4" height="7.4" rx="1.6" fill="#08090a"/>
<rect x="183.1" y="788" width="5.4" height="7.4" rx="1.6" fill="#08090a"/>
<rect x="190.9" y="788" width="5.4" height="7.4" rx="1.6" fill="#08090a"/>
<rect x="198.8" y="788" width="5.4" height="7.4" rx="1.6" fill="#08090a"/>
<rect x="206.7" y="788" width="5.4" height="7.4" rx="1.6" fill="#08090a"/>
<rect x="214.5" y="788" width="5.4" height="7.4" rx="1.6" fill="#08090a"/>
<rect x="222.4" y="788" width="5.4" height="7.4" rx="1.6" fill="#08090a"/>
<rect x="230.2" y="788" width="5.4" height="7.4" rx="1.6" fill="#08090a"/>
<rect x="238.1" y="788" width="5.4" height="7.4" rx="1.6" fill="#08090a"/>
<rect x="246" y="788" width="5.4" height="7.4" rx="1.6" fill="#08090a"/>
<rect x="253.8" y="788" width="5.4" height="7.4" rx="1.6" fill="#08090a"/>
<rect x="261.7" y="788" width="5.4" height="7.4" rx="1.6" fill="#08090a"/>
<rect x="269.5" y="788" width="5.4" height="7.4" rx="1.6" fill="#08090a"/>
<rect x="277.4" y="788" width="5.4" height="7.4" rx="1.6" fill="#08090a"/>
<rect x="285.3" y="788" width="5.4" height="7.4" rx="1.6" fill="#08090a"/>
<rect x="293.1" y="788" width="5.4" height="7.4" rx="1.6" fill="#08090a"/>
<rect x="301" y="788" width="5.4" height="7.4" rx="1.6" fill="#08090a"/>
<rect x="110.6" y="798.6" width="207" height="23.4" fill="#3a3f41"/>
<rect x="110.6" y="799.4" width="207" height="3" fill="#5a5052"/>
<rect x="111.2" y="805.8" width="8.4" height="6.6" fill="#f0f0f0"/>
<text x="115.4" y="811.3" class="ex" >EX</text>
<rect x="122.8" y="802.4" width="46" height="15" fill="#020202"/>
<path d="M138.5 804.2L138.5 816.4" stroke="#fff" stroke-width="0.9" />
<rect x="128.8" y="818" width="33" height="1.7" fill="#d8d8d8"/>
<rect x="164.3" y="817.8" width="5.5" height="2" fill="#b02020"/>
<rect x="170.4" y="802.4" width="46" height="15" fill="#020202"/>
<path d="M186.1 804.2L186.1 816.4" stroke="#fff" stroke-width="0.9" />
<rect x="176.4" y="818" width="33" height="1.7" fill="#d8d8d8"/>
<rect x="211.9" y="817.8" width="5.5" height="2" fill="#b02020"/>
<rect x="218" y="802.4" width="46" height="15" fill="#020202"/>
<path d="M233.7 804.2L233.7 816.4" stroke="#fff" stroke-width="0.9" />
<rect x="224" y="818" width="33" height="1.7" fill="#d8d8d8"/>
<rect x="259.5" y="817.8" width="5.5" height="2" fill="#b02020"/>
<rect x="265.6" y="802.4" width="46" height="15" fill="#020202"/>
<path d="M281.3 804.2L281.3 816.4" stroke="#fff" stroke-width="0.9" />
<rect x="271.6" y="818" width="33" height="1.7" fill="#d8d8d8"/>
<path d="M124.1 808.9h6.2M124.1 811.5h6.2M131.7 808.9h6.2M131.7 811.5h6.2M139.3 808.9h6.2M139.3 811.5h6.2M146.9 808.9h6.2M146.9 811.5h6.2M154.5 808.9h6.2M154.5 811.5h6.2M162.1 808.9h6.2M162.1 811.5h6.2M171.7 808.9h6.2M171.7 811.5h6.2M179.3 808.9h6.2M179.3 811.5h6.2M186.9 808.9h6.2M186.9 811.5h6.2M194.5 808.9h6.2M194.5 811.5h6.2M202.1 808.9h6.2M202.1 811.5h6.2M209.7 808.9h6.2M209.7 811.5h6.2M219.3 808.9h6.2M219.3 811.5h6.2M226.9 808.9h6.2M226.9 811.5h6.2M234.5 808.9h6.2M234.5 811.5h6.2M242.1 808.9h6.2M242.1 811.5h6.2M249.7 808.9h6.2M249.7 811.5h6.2M257.3 808.9h6.2M257.3 811.5h6.2M266.9 808.9h6.2M266.9 811.5h6.2M274.5 808.9h6.2M274.5 811.5h6.2M282.1 808.9h6.2M282.1 811.5h6.2M289.7 808.9h6.2M289.7 811.5h6.2M297.3 808.9h6.2M297.3 811.5h6.2M304.9 808.9h6.2M304.9 811.5h6.2" stroke="#fff" stroke-width="1.2"/>
<path d="M125.3 806.3L126.3 804.3L128.1 804.3L129.1 806.3zM125.3 814.2L126.3 816.2L128.1 816.2L129.1 814.2zM132.9 806.3L133.9 804.3L135.7 804.3L136.7 806.3zM132.9 814.2L133.9 816.2L135.7 816.2L136.7 814.2zM140.5 806.3L141.5 804.3L143.3 804.3L144.3 806.3zM140.5 814.2L141.5 816.2L143.3 816.2L144.3 814.2zM148.1 806.3L149.1 804.3L150.9 804.3L151.9 806.3zM148.1 814.2L149.1 816.2L150.9 816.2L151.9 814.2zM155.7 806.3L156.7 804.3L158.5 804.3L159.5 806.3zM155.7 814.2L156.7 816.2L158.5 816.2L159.5 814.2zM163.3 806.3L164.3 804.3L166.1 804.3L167.1 806.3zM163.3 814.2L164.3 816.2L166.1 816.2L167.1 814.2zM172.9 806.3L173.9 804.3L175.7 804.3L176.7 806.3zM172.9 814.2L173.9 816.2L175.7 816.2L176.7 814.2zM180.5 806.3L181.5 804.3L183.3 804.3L184.3 806.3zM180.5 814.2L181.5 816.2L183.3 816.2L184.3 814.2zM188.1 806.3L189.1 804.3L190.9 804.3L191.9 806.3zM188.1 814.2L189.1 816.2L190.9 816.2L191.9 814.2zM195.7 806.3L196.7 804.3L198.5 804.3L199.5 806.3zM195.7 814.2L196.7 816.2L198.5 816.2L199.5 814.2zM203.3 806.3L204.3 804.3L206.1 804.3L207.1 806.3zM203.3 814.2L204.3 816.2L206.1 816.2L207.1 814.2zM210.9 806.3L211.9 804.3L213.7 804.3L214.7 806.3zM210.9 814.2L211.9 816.2L213.7 816.2L214.7 814.2zM220.5 806.3L221.5 804.3L223.3 804.3L224.3 806.3zM220.5 814.2L221.5 816.2L223.3 816.2L224.3 814.2zM228.1 806.3L229.1 804.3L230.9 804.3L231.9 806.3zM228.1 814.2L229.1 816.2L230.9 816.2L231.9 814.2zM235.7 806.3L236.7 804.3L238.5 804.3L239.5 806.3zM235.7 814.2L236.7 816.2L238.5 816.2L239.5 814.2zM243.3 806.3L244.3 804.3L246.1 804.3L247.1 806.3zM243.3 814.2L244.3 816.2L246.1 816.2L247.1 814.2zM250.9 806.3L251.9 804.3L253.7 804.3L254.7 806.3zM250.9 814.2L251.9 816.2L253.7 816.2L254.7 814.2zM258.5 806.3L259.5 804.3L261.3 804.3L262.3 806.3zM258.5 814.2L259.5 816.2L261.3 816.2L262.3 814.2zM268.1 806.3L269.1 804.3L270.9 804.3L271.9 806.3zM268.1 814.2L269.1 816.2L270.9 816.2L271.9 814.2zM275.7 806.3L276.7 804.3L278.5 804.3L279.5 806.3zM275.7 814.2L276.7 816.2L278.5 816.2L279.5 814.2zM283.3 806.3L284.3 804.3L286.1 804.3L287.1 806.3zM283.3 814.2L284.3 816.2L286.1 816.2L287.1 814.2zM290.9 806.3L291.9 804.3L293.7 804.3L294.7 806.3zM290.9 814.2L291.9 816.2L293.7 816.2L294.7 814.2zM298.5 806.3L299.5 804.3L301.3 804.3L302.3 806.3zM298.5 814.2L299.5 816.2L301.3 816.2L302.3 814.2zM306.1 806.3L307.1 804.3L308.9 804.3L309.9 806.3zM306.1 814.2L307.1 816.2L308.9 816.2L309.9 814.2z" fill="#f0f0f0"/>
<rect x="312.4" y="799.6" width="8.2" height="20" fill="#e01818"/>
<rect x="314.6" y="806.8" width="4.4" height="5.4" fill="#222"/>
<text x="316.8" y="811.2" class="ex" style="fill:#fff;font-size:4.6px">X</text>
<path d="M263 801.6V800.2H291V801.6" fill="none" stroke="#f0f0f0" stroke-width=".8"/>
<rect x="110.6" y="822.6" width="207" height="5.6" fill="#4c5355"/>
<rect x="110.6" y="829.6" width="207" height="24" fill="#485052"/>
<circle cx="114.4" cy="842.4" r="1.8" fill="#f4f4f4" stroke="#111" stroke-width=".9"/>
<circle cx="313.6" cy="842.4" r="1.8" fill="#f4f4f4" stroke="#111" stroke-width=".9"/>
<rect x="110.6" y="855.2" width="207" height="22.2" fill="#485052"/>
<circle cx="114.4" cy="867.1" r="1.8" fill="#f4f4f4" stroke="#111" stroke-width=".9"/>
<circle cx="313.6" cy="867.1" r="1.8" fill="#f4f4f4" stroke="#111" stroke-width=".9"/>
<rect x="110.6" y="879" width="207" height="23.2" fill="#485052"/>
<circle cx="114.4" cy="891.4" r="1.8" fill="#f4f4f4" stroke="#111" stroke-width=".9"/>
<circle cx="313.6" cy="891.4" r="1.8" fill="#f4f4f4" stroke="#111" stroke-width=".9"/>
<rect x="90" y="876.8" width="3.4" height="1" fill="#9fb6c8"/>
<rect x="88.4" y="878.8" width="6.6" height="0.9" fill="#7f9ab0"/>
<rect x="80.6" y="916.2" width="230.6" height="110.6" fill="#1c2224"/>
<rect x="81.6" y="917.2" width="113.6" height="109" fill="#485053"/>
<rect x="196.6" y="917.2" width="113.6" height="109" fill="#485053"/>
<rect x="125" y="968" width="48.4" height="7" rx="3.5" fill="#2c3234"/>
<rect x="240" y="968" width="47.6" height="7" rx="3.5" fill="#2c3234"/>
<rect x="80.6" y="1027" width="230.6" height="21.4" fill="#8b8b8b"/>
<rect x="149" y="1029" width="14" height="0.9" fill="#a4a4a4"/>
<rect x="244" y="1029" width="14" height="0.9" fill="#a4a4a4"/>
<text x="192.4" y="1042.6" class="h3" font-size="8.4" textLength="21.4" lengthAdjust="spacingAndGlyphs">H3C</text>
<rect x="173" y="1047.2" width="34" height="3.2" fill="#8b8b8b"/>
<use href="#pb" transform="translate(0 58.4)"/>
<use href="#pp" transform="translate(0 58.4)"/>
<use href="#rl" transform="translate(0 58.4)"/>
<text class="lr" y="79.7"><tspan x="52.2" textLength="9.4" lengthAdjust="spacingAndGlyphs">0101</tspan><tspan x="64" textLength="9.4" lengthAdjust="spacingAndGlyphs">0102</tspan><tspan x="75.8" textLength="9.4" lengthAdjust="spacingAndGlyphs">0103</tspan><tspan x="87.7" textLength="9.4" lengthAdjust="spacingAndGlyphs">0104</tspan><tspan x="99.5" textLength="9.4" lengthAdjust="spacingAndGlyphs">0105</tspan><tspan x="111.3" textLength="9.4" lengthAdjust="spacingAndGlyphs">0106</tspan><tspan x="123.1" textLength="9.4" lengthAdjust="spacingAndGlyphs">0107</tspan><tspan x="135" textLength="9.4" lengthAdjust="spacingAndGlyphs">0108</tspan><tspan x="146.8" textLength="9.4" lengthAdjust="spacingAndGlyphs">0109</tspan><tspan x="158.6" textLength="9.4" lengthAdjust="spacingAndGlyphs">0110</tspan><tspan x="170.4" textLength="9.4" lengthAdjust="spacingAndGlyphs">0111</tspan><tspan x="182.2" textLength="9.4" lengthAdjust="spacingAndGlyphs">0112</tspan><tspan x="194" textLength="9.4" lengthAdjust="spacingAndGlyphs">0113</tspan><tspan x="205.9" textLength="9.4" lengthAdjust="spacingAndGlyphs">0114</tspan><tspan x="217.7" textLength="9.4" lengthAdjust="spacingAndGlyphs">0115</tspan><tspan x="229.5" textLength="9.4" lengthAdjust="spacingAndGlyphs">0116</tspan><tspan x="241.3" textLength="9.4" lengthAdjust="spacingAndGlyphs">0117</tspan><tspan x="253.2" textLength="9.4" lengthAdjust="spacingAndGlyphs">0118</tspan><tspan x="265" textLength="9.4" lengthAdjust="spacingAndGlyphs">0119</tspan><tspan x="276.8" textLength="9.4" lengthAdjust="spacingAndGlyphs">0120</tspan><tspan x="288.6" textLength="9.4" lengthAdjust="spacingAndGlyphs">0121</tspan><tspan x="300.4" textLength="9.4" lengthAdjust="spacingAndGlyphs">0122</tspan><tspan x="312.3" textLength="9.4" lengthAdjust="spacingAndGlyphs">0123</tspan><tspan x="324.1" textLength="9.4" lengthAdjust="spacingAndGlyphs">0124</tspan></text>
<use href="#pb" transform="translate(0 82.4)"/>
<use href="#pb" transform="translate(0 106.4)"/>
<use href="#pp" transform="translate(0 106.4)"/>
<use href="#rl" transform="translate(0 106.4)"/>
<text class="lr" y="127.7"><tspan x="52.2" textLength="9.4" lengthAdjust="spacingAndGlyphs">0125</tspan><tspan x="64" textLength="9.4" lengthAdjust="spacingAndGlyphs">0126</tspan><tspan x="75.8" textLength="9.4" lengthAdjust="spacingAndGlyphs">0127</tspan><tspan x="87.7" textLength="9.4" lengthAdjust="spacingAndGlyphs">0128</tspan><tspan x="99.5" textLength="9.4" lengthAdjust="spacingAndGlyphs">0129</tspan><tspan x="111.3" textLength="9.4" lengthAdjust="spacingAndGlyphs">0130</tspan><tspan x="123.1" textLength="9.4" lengthAdjust="spacingAndGlyphs">0131</tspan><tspan x="135" textLength="9.4" lengthAdjust="spacingAndGlyphs">0132</tspan><tspan x="146.8" textLength="9.4" lengthAdjust="spacingAndGlyphs">0133</tspan><tspan x="158.6" textLength="9.4" lengthAdjust="spacingAndGlyphs">0134</tspan><tspan x="170.4" textLength="9.4" lengthAdjust="spacingAndGlyphs">0135</tspan><tspan x="182.2" textLength="9.4" lengthAdjust="spacingAndGlyphs">0136</tspan><tspan x="194" textLength="9.4" lengthAdjust="spacingAndGlyphs">0137</tspan><tspan x="205.9" textLength="9.4" lengthAdjust="spacingAndGlyphs">0138</tspan><tspan x="217.7" textLength="9.4" lengthAdjust="spacingAndGlyphs">0139</tspan><tspan x="229.5" textLength="9.4" lengthAdjust="spacingAndGlyphs">0140</tspan><tspan x="241.3" textLength="9.4" lengthAdjust="spacingAndGlyphs">0141</tspan><tspan x="253.2" textLength="9.4" lengthAdjust="spacingAndGlyphs">0142</tspan><tspan x="265" textLength="9.4" lengthAdjust="spacingAndGlyphs">0143</tspan><tspan x="276.8" textLength="9.4" lengthAdjust="spacingAndGlyphs">0144</tspan><tspan x="288.6" textLength="9.4" lengthAdjust="spacingAndGlyphs">0145</tspan><tspan x="300.4" textLength="9.4" lengthAdjust="spacingAndGlyphs">0146</tspan><tspan x="312.3" textLength="9.4" lengthAdjust="spacingAndGlyphs">0147</tspan><tspan x="324.1" textLength="9.4" lengthAdjust="spacingAndGlyphs">0148</tspan></text>
<use href="#pb" transform="translate(0 130.4)"/>
<use href="#pp" transform="translate(0 130.4)"/>
<use href="#rl" transform="translate(0 130.4)"/>
<text class="lr" y="151.7"><tspan x="52.2" textLength="9.4" lengthAdjust="spacingAndGlyphs">0149</tspan><tspan x="64" textLength="9.4" lengthAdjust="spacingAndGlyphs">0150</tspan><tspan x="75.8" textLength="9.4" lengthAdjust="spacingAndGlyphs">0151</tspan><tspan x="87.7" textLength="9.4" lengthAdjust="spacingAndGlyphs">0152</tspan><tspan x="99.5" textLength="9.4" lengthAdjust="spacingAndGlyphs">0153</tspan><tspan x="111.3" textLength="9.4" lengthAdjust="spacingAndGlyphs">0154</tspan><tspan x="123.1" textLength="9.4" lengthAdjust="spacingAndGlyphs">0155</tspan><tspan x="135" textLength="9.4" lengthAdjust="spacingAndGlyphs">0156</tspan><tspan x="146.8" textLength="9.4" lengthAdjust="spacingAndGlyphs">0157</tspan><tspan x="158.6" textLength="9.4" lengthAdjust="spacingAndGlyphs">0158</tspan><tspan x="170.4" textLength="9.4" lengthAdjust="spacingAndGlyphs">0159</tspan><tspan x="182.2" textLength="9.4" lengthAdjust="spacingAndGlyphs">0160</tspan><tspan x="194" textLength="9.4" lengthAdjust="spacingAndGlyphs">0161</tspan><tspan x="205.9" textLength="9.4" lengthAdjust="spacingAndGlyphs">0162</tspan><tspan x="217.7" textLength="9.4" lengthAdjust="spacingAndGlyphs">0163</tspan><tspan x="229.5" textLength="9.4" lengthAdjust="spacingAndGlyphs">0164</tspan><tspan x="241.3" textLength="9.4" lengthAdjust="spacingAndGlyphs">0165</tspan><tspan x="253.2" textLength="9.4" lengthAdjust="spacingAndGlyphs">0166</tspan><tspan x="265" textLength="9.4" lengthAdjust="spacingAndGlyphs">0167</tspan><tspan x="276.8" textLength="9.4" lengthAdjust="spacingAndGlyphs">0168</tspan><tspan x="288.6" textLength="9.4" lengthAdjust="spacingAndGlyphs">0169</tspan><tspan x="300.4" textLength="9.4" lengthAdjust="spacingAndGlyphs">0170</tspan><tspan x="312.3" textLength="9.4" lengthAdjust="spacingAndGlyphs">0171</tspan><tspan x="324.1" textLength="9.4" lengthAdjust="spacingAndGlyphs">0172</tspan></text>
<use href="#pb" transform="translate(0 154.4)"/>
<use href="#pb" transform="translate(0 178.4)"/>
<use href="#pp" transform="translate(0 178.4)"/>
<use href="#rl" transform="translate(0 178.4)"/>
<text class="lr" y="199.7"><tspan x="52.2" textLength="9.4" lengthAdjust="spacingAndGlyphs">0173</tspan><tspan x="64" textLength="9.4" lengthAdjust="spacingAndGlyphs">0174</tspan><tspan x="75.8" textLength="9.4" lengthAdjust="spacingAndGlyphs">0175</tspan><tspan x="87.7" textLength="9.4" lengthAdjust="spacingAndGlyphs">0176</tspan><tspan x="99.5" textLength="9.4" lengthAdjust="spacingAndGlyphs">0177</tspan><tspan x="111.3" textLength="9.4" lengthAdjust="spacingAndGlyphs">0178</tspan><tspan x="123.1" textLength="9.4" lengthAdjust="spacingAndGlyphs">0179</tspan><tspan x="135" textLength="9.4" lengthAdjust="spacingAndGlyphs">0180</tspan><tspan x="146.8" textLength="9.4" lengthAdjust="spacingAndGlyphs">0181</tspan><tspan x="158.6" textLength="9.4" lengthAdjust="spacingAndGlyphs">0182</tspan><tspan x="170.4" textLength="9.4" lengthAdjust="spacingAndGlyphs">0183</tspan><tspan x="182.2" textLength="9.4" lengthAdjust="spacingAndGlyphs">0184</tspan><tspan x="194" textLength="9.4" lengthAdjust="spacingAndGlyphs">0185</tspan><tspan x="205.9" textLength="9.4" lengthAdjust="spacingAndGlyphs">0186</tspan><tspan x="217.7" textLength="9.4" lengthAdjust="spacingAndGlyphs">0187</tspan><tspan x="229.5" textLength="9.4" lengthAdjust="spacingAndGlyphs">0188</tspan><tspan x="241.3" textLength="9.4" lengthAdjust="spacingAndGlyphs">0189</tspan><tspan x="253.2" textLength="9.4" lengthAdjust="spacingAndGlyphs">0190</tspan><tspan x="265" textLength="9.4" lengthAdjust="spacingAndGlyphs">0191</tspan><tspan x="276.8" textLength="9.4" lengthAdjust="spacingAndGlyphs">0192</tspan><tspan x="288.6" textLength="9.4" lengthAdjust="spacingAndGlyphs">0193</tspan><tspan x="300.4" textLength="9.4" lengthAdjust="spacingAndGlyphs">0194</tspan><tspan x="312.3" textLength="9.4" lengthAdjust="spacingAndGlyphs">0195</tspan><tspan x="324.1" textLength="9.4" lengthAdjust="spacingAndGlyphs">0196</tspan></text>
<use href="#pb" transform="translate(0 202.4)"/>
<use href="#pp" transform="translate(0 202.4)"/>
<use href="#wl" transform="translate(0 202.4)"/>
<text class="lw" y="223.7"><tspan x="52.2" textLength="9.4" lengthAdjust="spacingAndGlyphs">0197</tspan><tspan x="64" textLength="9.4" lengthAdjust="spacingAndGlyphs">0198</tspan><tspan x="75.8" textLength="9.4" lengthAdjust="spacingAndGlyphs">0199</tspan><tspan x="87.7" textLength="9.4" lengthAdjust="spacingAndGlyphs">0200</tspan><tspan x="99.5" textLength="9.4" lengthAdjust="spacingAndGlyphs">0201</tspan></text>
<use href="#pb" transform="translate(0 226.4)"/>
<use href="#pb" transform="translate(0 250.4)"/>
<use href="#pp" transform="translate(0 250.4)"/>
<use href="#wl" transform="translate(0 250.4)"/>
<text class="lw" y="271.7"><tspan x="52.2" textLength="9.4" lengthAdjust="spacingAndGlyphs">0202</tspan><tspan x="64" textLength="9.4" lengthAdjust="spacingAndGlyphs">0203</tspan><tspan x="75.8" textLength="9.4" lengthAdjust="spacingAndGlyphs">0204</tspan><tspan x="87.7" textLength="9.4" lengthAdjust="spacingAndGlyphs">0205</tspan><tspan x="99.5" textLength="9.4" lengthAdjust="spacingAndGlyphs">0206</tspan><tspan x="111.3" textLength="9.4" lengthAdjust="spacingAndGlyphs">0207</tspan><tspan x="123.1" textLength="9.4" lengthAdjust="spacingAndGlyphs">0208</tspan><tspan x="135" textLength="9.4" lengthAdjust="spacingAndGlyphs">0209</tspan><tspan x="146.8" textLength="9.4" lengthAdjust="spacingAndGlyphs">0210</tspan><tspan x="158.6" textLength="9.4" lengthAdjust="spacingAndGlyphs">0211</tspan><tspan x="170.4" textLength="9.4" lengthAdjust="spacingAndGlyphs">0212</tspan><tspan x="182.2" textLength="9.4" lengthAdjust="spacingAndGlyphs">0213</tspan><tspan x="194" textLength="9.4" lengthAdjust="spacingAndGlyphs">0214</tspan><tspan x="205.9" textLength="9.4" lengthAdjust="spacingAndGlyphs">0215</tspan><tspan x="217.7" textLength="9.4" lengthAdjust="spacingAndGlyphs">0216</tspan><tspan x="229.5" textLength="9.4" lengthAdjust="spacingAndGlyphs">0217</tspan><tspan x="241.3" textLength="9.4" lengthAdjust="spacingAndGlyphs">0218</tspan><tspan x="253.2" textLength="9.4" lengthAdjust="spacingAndGlyphs">0219</tspan><tspan x="265" textLength="9.4" lengthAdjust="spacingAndGlyphs">0220</tspan><tspan x="276.8" textLength="9.4" lengthAdjust="spacingAndGlyphs">0221</tspan><tspan x="288.6" textLength="9.4" lengthAdjust="spacingAndGlyphs">0222</tspan><tspan x="300.4" textLength="9.4" lengthAdjust="spacingAndGlyphs">0223</tspan><tspan x="312.3" textLength="9.4" lengthAdjust="spacingAndGlyphs">0224</tspan><tspan x="324.1" textLength="9.4" lengthAdjust="spacingAndGlyphs">0225</tspan></text>
<use href="#pb" transform="translate(0 274.4)"/>
<use href="#pp" transform="translate(0 274.4)"/>
<use href="#wl" transform="translate(0 274.4)"/>
<text class="lw" y="295.7"><tspan x="52.2" textLength="9.4" lengthAdjust="spacingAndGlyphs">0226</tspan><tspan x="64" textLength="9.4" lengthAdjust="spacingAndGlyphs">0227</tspan><tspan x="75.8" textLength="9.4" lengthAdjust="spacingAndGlyphs">0228</tspan><tspan x="87.7" textLength="9.4" lengthAdjust="spacingAndGlyphs">0229</tspan><tspan x="99.5" textLength="9.4" lengthAdjust="spacingAndGlyphs">0230</tspan><tspan x="111.3" textLength="9.4" lengthAdjust="spacingAndGlyphs">0231</tspan><tspan x="123.1" textLength="9.4" lengthAdjust="spacingAndGlyphs">0232</tspan><tspan x="135" textLength="9.4" lengthAdjust="spacingAndGlyphs">0233</tspan><tspan x="146.8" textLength="9.4" lengthAdjust="spacingAndGlyphs">0234</tspan><tspan x="158.6" textLength="9.4" lengthAdjust="spacingAndGlyphs">0235</tspan><tspan x="170.4" textLength="9.4" lengthAdjust="spacingAndGlyphs">0236</tspan><tspan x="182.2" textLength="9.4" lengthAdjust="spacingAndGlyphs">0237</tspan><tspan x="194" textLength="9.4" lengthAdjust="spacingAndGlyphs">0238</tspan><tspan x="205.9" textLength="9.4" lengthAdjust="spacingAndGlyphs">0239</tspan><tspan x="217.7" textLength="9.4" lengthAdjust="spacingAndGlyphs">0240</tspan><tspan x="229.5" textLength="9.4" lengthAdjust="spacingAndGlyphs">0241</tspan><tspan x="241.3" textLength="9.4" lengthAdjust="spacingAndGlyphs">0242</tspan><tspan x="253.2" textLength="9.4" lengthAdjust="spacingAndGlyphs">0243</tspan><tspan x="265" textLength="9.4" lengthAdjust="spacingAndGlyphs">0244</tspan><tspan x="276.8" textLength="9.4" lengthAdjust="spacingAndGlyphs">0245</tspan><tspan x="288.6" textLength="9.4" lengthAdjust="spacingAndGlyphs">0246</tspan><tspan x="300.4" textLength="9.4" lengthAdjust="spacingAndGlyphs">0247</tspan><tspan x="312.3" textLength="9.4" lengthAdjust="spacingAndGlyphs">0248</tspan><tspan x="324.1" textLength="9.4" lengthAdjust="spacingAndGlyphs">0249</tspan></text>
<use href="#pb" transform="translate(0 298.4)"/>
<use href="#pb" transform="translate(0 322.4)"/>
<use href="#pp" transform="translate(0 322.4)"/>
<use href="#wl" transform="translate(0 322.4)"/>
<text class="lw" y="343.7"><tspan x="52.2" textLength="9.4" lengthAdjust="spacingAndGlyphs">0250</tspan><tspan x="64" textLength="9.4" lengthAdjust="spacingAndGlyphs">0251</tspan><tspan x="75.8" textLength="9.4" lengthAdjust="spacingAndGlyphs">0252</tspan><tspan x="87.7" textLength="9.4" lengthAdjust="spacingAndGlyphs">0253</tspan><tspan x="99.5" textLength="9.4" lengthAdjust="spacingAndGlyphs">0254</tspan><tspan x="111.3" textLength="9.4" lengthAdjust="spacingAndGlyphs">0255</tspan><tspan x="123.1" textLength="9.4" lengthAdjust="spacingAndGlyphs">0256</tspan><tspan x="135" textLength="9.4" lengthAdjust="spacingAndGlyphs">0257</tspan><tspan x="146.8" textLength="9.4" lengthAdjust="spacingAndGlyphs">0258</tspan><tspan x="158.6" textLength="9.4" lengthAdjust="spacingAndGlyphs">0259</tspan><tspan x="170.4" textLength="9.4" lengthAdjust="spacingAndGlyphs">0260</tspan><tspan x="182.2" textLength="9.4" lengthAdjust="spacingAndGlyphs">0261</tspan><tspan x="194" textLength="9.4" lengthAdjust="spacingAndGlyphs">0262</tspan><tspan x="205.9" textLength="9.4" lengthAdjust="spacingAndGlyphs">0263</tspan><tspan x="217.7" textLength="9.4" lengthAdjust="spacingAndGlyphs">0264</tspan><tspan x="229.5" textLength="9.4" lengthAdjust="spacingAndGlyphs">0265</tspan><tspan x="241.3" textLength="9.4" lengthAdjust="spacingAndGlyphs">0266</tspan><tspan x="253.2" textLength="9.4" lengthAdjust="spacingAndGlyphs">0267</tspan><tspan x="265" textLength="9.4" lengthAdjust="spacingAndGlyphs">0268</tspan><tspan x="276.8" textLength="9.4" lengthAdjust="spacingAndGlyphs">0269</tspan><tspan x="288.6" textLength="9.4" lengthAdjust="spacingAndGlyphs">0270</tspan><tspan x="300.4" textLength="9.4" lengthAdjust="spacingAndGlyphs">0271</tspan><tspan x="312.3" textLength="9.4" lengthAdjust="spacingAndGlyphs">0272</tspan><tspan x="324.1" textLength="9.4" lengthAdjust="spacingAndGlyphs">0273</tspan></text>
<use href="#pb" transform="translate(0 461.8) scale(1 0.983)"/>
<use href="#pp" transform="translate(0 461.8)"/>
<use href="#wl" transform="translate(0 461.8)"/>
<text class="lw" y="483.1"><tspan x="52.2" textLength="9.4" lengthAdjust="spacingAndGlyphs">0274</tspan><tspan x="64" textLength="9.4" lengthAdjust="spacingAndGlyphs">0275</tspan><tspan x="75.8" textLength="9.4" lengthAdjust="spacingAndGlyphs">0276</tspan><tspan x="87.7" textLength="9.4" lengthAdjust="spacingAndGlyphs">0277</tspan><tspan x="99.5" textLength="9.4" lengthAdjust="spacingAndGlyphs">0278</tspan><tspan x="111.3" textLength="9.4" lengthAdjust="spacingAndGlyphs">0279</tspan><tspan x="123.1" textLength="9.4" lengthAdjust="spacingAndGlyphs">0280</tspan><tspan x="135" textLength="9.4" lengthAdjust="spacingAndGlyphs">0281</tspan><tspan x="146.8" textLength="9.4" lengthAdjust="spacingAndGlyphs">0282</tspan><tspan x="158.6" textLength="9.4" lengthAdjust="spacingAndGlyphs">0283</tspan><tspan x="170.4" textLength="9.4" lengthAdjust="spacingAndGlyphs">0284</tspan><tspan x="182.2" textLength="9.4" lengthAdjust="spacingAndGlyphs">0285</tspan><tspan x="194" textLength="9.4" lengthAdjust="spacingAndGlyphs">0286</tspan><tspan x="205.9" textLength="9.4" lengthAdjust="spacingAndGlyphs">0287</tspan><tspan x="217.7" textLength="9.4" lengthAdjust="spacingAndGlyphs">0288</tspan><tspan x="229.5" textLength="9.4" lengthAdjust="spacingAndGlyphs">0289</tspan><tspan x="241.3" textLength="9.4" lengthAdjust="spacingAndGlyphs">0290</tspan><tspan x="253.2" textLength="9.4" lengthAdjust="spacingAndGlyphs">0291</tspan><tspan x="265" textLength="9.4" lengthAdjust="spacingAndGlyphs">0292</tspan><tspan x="300.4" textLength="6" lengthAdjust="spacingAndGlyphs">A1</tspan><tspan x="312.3" textLength="6" lengthAdjust="spacingAndGlyphs">B1</tspan><tspan x="324.1" textLength="6" lengthAdjust="spacingAndGlyphs">C1</tspan></text>
<use href="#pb" transform="translate(0 485.4) scale(1 0.979)"/>
<use href="#pb" transform="translate(0 530.6) scale(1 0.983)"/>
<use href="#pb" transform="translate(0 554.2) scale(1 0.983)"/>
<use href="#pp" transform="translate(0 554.2)"/>
<use href="#wl" transform="translate(0 554.2)"/>
<text class="lw" y="575.5"><tspan x="52.2" textLength="9.4" lengthAdjust="spacingAndGlyphs">0293</tspan><tspan x="64" textLength="9.4" lengthAdjust="spacingAndGlyphs">0294</tspan><tspan x="75.8" textLength="9.4" lengthAdjust="spacingAndGlyphs">0295</tspan><tspan x="87.7" textLength="9.4" lengthAdjust="spacingAndGlyphs">0296</tspan><tspan x="99.5" textLength="9.4" lengthAdjust="spacingAndGlyphs">0297</tspan><tspan x="111.3" textLength="9.4" lengthAdjust="spacingAndGlyphs">0298</tspan><tspan x="123.1" textLength="9.4" lengthAdjust="spacingAndGlyphs">0299</tspan><tspan x="135" textLength="9.4" lengthAdjust="spacingAndGlyphs">0300</tspan><tspan x="146.8" textLength="9.4" lengthAdjust="spacingAndGlyphs">0301</tspan><tspan x="158.6" textLength="9.4" lengthAdjust="spacingAndGlyphs">0302</tspan><tspan x="170.4" textLength="9.4" lengthAdjust="spacingAndGlyphs">0303</tspan><tspan x="182.2" textLength="9.4" lengthAdjust="spacingAndGlyphs">0304</tspan><tspan x="194" textLength="9.4" lengthAdjust="spacingAndGlyphs">0305</tspan><tspan x="205.9" textLength="9.4" lengthAdjust="spacingAndGlyphs">0306</tspan><tspan x="217.7" textLength="9.4" lengthAdjust="spacingAndGlyphs">0307</tspan><tspan x="229.5" textLength="9.4" lengthAdjust="spacingAndGlyphs">0308</tspan><tspan x="241.3" textLength="9.4" lengthAdjust="spacingAndGlyphs">0309</tspan><tspan x="253.2" textLength="9.4" lengthAdjust="spacingAndGlyphs">0310</tspan><tspan x="265" textLength="9.4" lengthAdjust="spacingAndGlyphs">0311</tspan><tspan x="276.8" textLength="9.4" lengthAdjust="spacingAndGlyphs">0312</tspan><tspan x="288.6" textLength="9.4" lengthAdjust="spacingAndGlyphs">0313</tspan><tspan x="300.4" textLength="9.4" lengthAdjust="spacingAndGlyphs">0314</tspan><tspan x="312.3" textLength="9.4" lengthAdjust="spacingAndGlyphs">0315</tspan><tspan x="324.1" textLength="9.4" lengthAdjust="spacingAndGlyphs">0316</tspan></text>
<use href="#pb" transform="translate(0 577.8) scale(1 0.992)"/>
<use href="#pp" transform="translate(0 577.8)"/>
<use href="#wl" transform="translate(0 577.8)"/>
<text class="lw" y="599.1"><tspan x="52.2" textLength="9.4" lengthAdjust="spacingAndGlyphs">0317</tspan><tspan x="64" textLength="9.4" lengthAdjust="spacingAndGlyphs">0318</tspan><tspan x="75.8" textLength="9.4" lengthAdjust="spacingAndGlyphs">0319</tspan><tspan x="87.7" textLength="9.4" lengthAdjust="spacingAndGlyphs">0320</tspan><tspan x="99.5" textLength="9.4" lengthAdjust="spacingAndGlyphs">0321</tspan><tspan x="111.3" textLength="9.4" lengthAdjust="spacingAndGlyphs">0322</tspan><tspan x="123.1" textLength="9.4" lengthAdjust="spacingAndGlyphs">0323</tspan><tspan x="135" textLength="9.4" lengthAdjust="spacingAndGlyphs">0324</tspan><tspan x="146.8" textLength="9.4" lengthAdjust="spacingAndGlyphs">0325</tspan><tspan x="158.6" textLength="9.4" lengthAdjust="spacingAndGlyphs">0326</tspan><tspan x="170.4" textLength="9.4" lengthAdjust="spacingAndGlyphs">0327</tspan><tspan x="182.2" textLength="9.4" lengthAdjust="spacingAndGlyphs">0328</tspan><tspan x="194" textLength="9.4" lengthAdjust="spacingAndGlyphs">0329</tspan><tspan x="205.9" textLength="9.4" lengthAdjust="spacingAndGlyphs">0330</tspan><tspan x="217.7" textLength="9.4" lengthAdjust="spacingAndGlyphs">0331</tspan><tspan x="229.5" textLength="9.4" lengthAdjust="spacingAndGlyphs">0332</tspan><tspan x="241.3" textLength="9.4" lengthAdjust="spacingAndGlyphs">0333</tspan><tspan x="253.2" textLength="9.4" lengthAdjust="spacingAndGlyphs">0334</tspan><tspan x="265" textLength="9.4" lengthAdjust="spacingAndGlyphs">0335</tspan><tspan x="276.8" textLength="9.4" lengthAdjust="spacingAndGlyphs">0336</tspan><tspan x="288.6" textLength="9.4" lengthAdjust="spacingAndGlyphs">0337</tspan><tspan x="300.4" textLength="9.4" lengthAdjust="spacingAndGlyphs">0338</tspan><tspan x="312.3" textLength="9.4" lengthAdjust="spacingAndGlyphs">0339</tspan><tspan x="324.1" textLength="9.4" lengthAdjust="spacingAndGlyphs">0340</tspan></text>
<use href="#pb" transform="translate(0 601.6) scale(1 1.008)"/>
<use href="#pb" transform="translate(0 625.8) scale(1 1.008)"/>
<use href="#pp" transform="translate(0 625.8)"/>
<use href="#wl" transform="translate(0 625.8)"/>
<text class="lw" y="647.1"><tspan x="52.2" textLength="9.4" lengthAdjust="spacingAndGlyphs">0341</tspan><tspan x="64" textLength="9.4" lengthAdjust="spacingAndGlyphs">0342</tspan><tspan x="75.8" textLength="9.4" lengthAdjust="spacingAndGlyphs">0343</tspan><tspan x="87.7" textLength="9.4" lengthAdjust="spacingAndGlyphs">0344</tspan><tspan x="99.5" textLength="9.4" lengthAdjust="spacingAndGlyphs">0345</tspan><tspan x="111.3" textLength="9.4" lengthAdjust="spacingAndGlyphs">0346</tspan><tspan x="123.1" textLength="9.4" lengthAdjust="spacingAndGlyphs">0347</tspan><tspan x="135" textLength="9.4" lengthAdjust="spacingAndGlyphs">0348</tspan><tspan x="146.8" textLength="9.4" lengthAdjust="spacingAndGlyphs">0349</tspan><tspan x="158.6" textLength="9.4" lengthAdjust="spacingAndGlyphs">0350</tspan><tspan x="170.4" textLength="9.4" lengthAdjust="spacingAndGlyphs">0351</tspan><tspan x="182.2" textLength="9.4" lengthAdjust="spacingAndGlyphs">0352</tspan><tspan x="194" textLength="9.4" lengthAdjust="spacingAndGlyphs">0353</tspan><tspan x="205.9" textLength="9.4" lengthAdjust="spacingAndGlyphs">0354</tspan><tspan x="217.7" textLength="9.4" lengthAdjust="spacingAndGlyphs">0355</tspan><tspan x="229.5" textLength="9.4" lengthAdjust="spacingAndGlyphs">0356</tspan><tspan x="241.3" textLength="9.4" lengthAdjust="spacingAndGlyphs">0357</tspan><tspan x="253.2" textLength="9.4" lengthAdjust="spacingAndGlyphs">0358</tspan><tspan x="265" textLength="9.4" lengthAdjust="spacingAndGlyphs">0359</tspan><tspan x="276.8" textLength="9.4" lengthAdjust="spacingAndGlyphs">0360</tspan><tspan x="288.6" textLength="9.4" lengthAdjust="spacingAndGlyphs">0361</tspan><tspan x="300.4" textLength="9.4" lengthAdjust="spacingAndGlyphs">0362</tspan><tspan x="312.3" textLength="9.4" lengthAdjust="spacingAndGlyphs">0363</tspan><tspan x="324.1" textLength="9.4" lengthAdjust="spacingAndGlyphs">0364</tspan></text>
<use href="#pb" transform="translate(0 650) scale(1 1.062)"/>
<rect x="47.3" y="655.4" width="9.4" height="9.8" rx="1.3" class="fq"/>
<rect x="59.1" y="655.4" width="9.4" height="9.8" rx="1.3" class="fq"/>
<rect x="70.9" y="655.4" width="9.4" height="9.8" rx="1.3" class="fq"/>
<rect x="82.8" y="655.4" width="9.4" height="9.8" rx="1.3" class="fq"/>
<rect x="94.6" y="655.4" width="9.4" height="9.8" rx="1.3" class="fq"/>
<rect x="106.4" y="655.4" width="9.4" height="9.8" rx="1.3" class="fq"/>
<rect x="118.2" y="655.4" width="9.4" height="9.8" rx="1.3" class="fq"/>
<rect x="130" y="655.4" width="9.4" height="9.8" rx="1.3" class="fq"/>
<rect x="141.9" y="655.4" width="9.4" height="9.8" rx="1.3" class="fq"/>
<rect x="153.7" y="655.4" width="9.4" height="9.8" rx="1.3" class="fq"/>
<rect x="165.5" y="655.4" width="9.4" height="9.8" rx="1.3" class="fq"/>
<rect x="177.3" y="655.4" width="9.4" height="9.8" rx="1.3" class="fq"/>
<rect x="189.1" y="655.4" width="9.4" height="9.8" rx="1.3" class="fq"/>
<rect x="201" y="655.4" width="9.4" height="9.8" rx="1.3" class="fq"/>
<rect x="212.8" y="655.4" width="9.4" height="9.8" rx="1.3" class="fq"/>
<rect x="224.6" y="655.4" width="9.4" height="9.8" rx="1.3" class="fq"/>
<rect x="236.4" y="655.4" width="9.4" height="9.8" rx="1.3" class="fq"/>
<rect x="248.2" y="655.4" width="9.4" height="9.8" rx="1.3" class="fq"/>
<rect x="260.1" y="655.4" width="9.4" height="9.8" rx="1.3" class="fq"/>
<rect x="271.9" y="655.4" width="9.4" height="9.8" rx="1.3" class="fq"/>
<rect x="283.7" y="655.4" width="9.4" height="9.8" rx="1.3" class="fq"/>
<rect x="295.5" y="655.4" width="9.4" height="9.8" rx="1.3" class="fq"/>
<rect x="307.3" y="655.4" width="9.4" height="9.8" rx="1.3" class="fq"/>
<rect x="319.2" y="655.4" width="9.4" height="9.8" rx="1.3" class="fq"/>
<text class="fn" y="663.4"><tspan x="52">1</tspan><tspan x="63.8">2</tspan><tspan x="75.6">3</tspan><tspan x="87.5">4</tspan><tspan x="99.3">5</tspan><tspan x="111.1">6</tspan><tspan x="122.9">7</tspan><tspan x="134.7">8</tspan><tspan x="146.6">9</tspan><tspan x="158.4" textLength="7.6" lengthAdjust="spacingAndGlyphs">10</tspan><tspan x="170.2" textLength="7.6" lengthAdjust="spacingAndGlyphs">11</tspan><tspan x="182" textLength="7.6" lengthAdjust="spacingAndGlyphs">12</tspan><tspan x="193.8">1</tspan><tspan x="205.7">2</tspan><tspan x="217.5">3</tspan><tspan x="229.3">1</tspan><tspan x="241.1">3</tspan><tspan x="252.9">3</tspan></text>
<use href="#pb" transform="translate(0 675.5) scale(1 1.062)"/>
<rect x="47.3" y="680.9" width="9.4" height="9.8" rx="1.3" class="fq"/>
<rect x="59.1" y="680.9" width="9.4" height="9.8" rx="1.3" class="fq"/>
<rect x="70.9" y="680.9" width="9.4" height="9.8" rx="1.3" class="fq"/>
<rect x="82.8" y="680.9" width="9.4" height="9.8" rx="1.3" class="fq"/>
<rect x="94.6" y="680.9" width="9.4" height="9.8" rx="1.3" class="fq"/>
<rect x="106.4" y="680.9" width="9.4" height="9.8" rx="1.3" class="fq"/>
<rect x="118.2" y="680.9" width="9.4" height="9.8" rx="1.3" class="fq"/>
<rect x="130" y="680.9" width="9.4" height="9.8" rx="1.3" class="fq"/>
<rect x="141.9" y="680.9" width="9.4" height="9.8" rx="1.3" class="fq"/>
<rect x="153.7" y="680.9" width="9.4" height="9.8" rx="1.3" class="fq"/>
<rect x="165.5" y="680.9" width="9.4" height="9.8" rx="1.3" class="fq"/>
<rect x="177.3" y="680.9" width="9.4" height="9.8" rx="1.3" class="fq"/>
<rect x="189.1" y="680.9" width="9.4" height="9.8" rx="1.3" class="fq"/>
<rect x="201" y="680.9" width="9.4" height="9.8" rx="1.3" class="fq"/>
<rect x="212.8" y="680.9" width="9.4" height="9.8" rx="1.3" class="fq"/>
<rect x="224.6" y="680.9" width="9.4" height="9.8" rx="1.3" class="fq"/>
<rect x="236.4" y="680.9" width="9.4" height="9.8" rx="1.3" class="fq"/>
<rect x="248.2" y="680.9" width="9.4" height="9.8" rx="1.3" class="fq"/>
<rect x="260.1" y="680.9" width="9.4" height="9.8" rx="1.3" class="fq"/>
<rect x="271.9" y="680.9" width="9.4" height="9.8" rx="1.3" class="fq"/>
<rect x="283.7" y="680.9" width="9.4" height="9.8" rx="1.3" class="fq"/>
<rect x="295.5" y="680.9" width="9.4" height="9.8" rx="1.3" class="fq"/>
<rect x="307.3" y="680.9" width="9.4" height="9.8" rx="1.3" class="fq"/>
<rect x="319.2" y="680.9" width="9.4" height="9.8" rx="1.3" class="fq"/>
<text class="fn" y="688.9"><tspan x="52">1</tspan><tspan x="63.8">2</tspan><tspan x="75.6">3</tspan><tspan x="87.5">4</tspan><tspan x="99.3">5</tspan><tspan x="111.1">6</tspan><tspan x="122.9">7</tspan><tspan x="134.7">8</tspan><tspan x="146.6">9</tspan><tspan x="158.4" textLength="7.6" lengthAdjust="spacingAndGlyphs">10</tspan><tspan x="170.2" textLength="7.6" lengthAdjust="spacingAndGlyphs">11</tspan><tspan x="182" textLength="7.6" lengthAdjust="spacingAndGlyphs">12</tspan><tspan x="193.8">1</tspan><tspan x="205.7">2</tspan><tspan x="217.5">3</tspan><tspan x="229.3">4</tspan><tspan x="241.1">5</tspan><tspan x="252.9">6</tspan><tspan x="264.8">7</tspan><tspan x="276.6">8</tspan><tspan x="288.4">9</tspan><tspan x="300.2" textLength="7.6" lengthAdjust="spacingAndGlyphs">10</tspan><tspan x="312" textLength="7.6" lengthAdjust="spacingAndGlyphs">11</tspan><tspan x="323.9" textLength="7.6" lengthAdjust="spacingAndGlyphs">12</tspan></text>
<path d="M297 485V488.8H327.7V485" fill="none" stroke="#d23a3a" stroke-width=".9"/>
<text x="312.25" y="495.2" class="cj" font-size="6.3" fill="#333">合同部</text>
<path d="M52 665.4V670.8H182V665.4" fill="none" stroke="#c8323a" stroke-width=".9"/>
<text x="109.4" y="673.9" class="fl" >A-F1R2</text>
<path d="M193.8 656V650.2H217.5V656" fill="none" stroke="#c8323a" stroke-width=".9"/>
<path d="M229.3 656V650.2H252.9V656" fill="none" stroke="#c8323a" stroke-width=".9"/>
<text x="205.6" y="672.6" class="fl" style="fill:#5c5050">A-F2R1</text>
<text x="241.6" y="672.6" class="fl" style="fill:#5c5050">A-F3R1</text>
<path d="M52 691V696.4H182V691" fill="none" stroke="#c8323a" stroke-width=".9"/>
<text x="109.4" y="699.4" class="fl" >B-F1R1</text>
<path d="M193.8 691V694H323.9V691" fill="none" stroke="#c8323a" stroke-width=".9"/>
<text x="236" y="697.2" class="fl" >B-F1R1</text>
<text x="265.2" y="697.4" class="cj" font-size="8.8" fill="#7a2a30">（备）</text>
<text class="rn"><tspan x="357.8" y="65.2">42</tspan><tspan x="357.8" y="88.1">41</tspan><tspan x="357.8" y="113.2">40</tspan><tspan x="357.8" y="136">39</tspan><tspan x="357.8" y="160.1">38</tspan><tspan x="357.8" y="183.2">37</tspan><tspan x="357.8" y="206.9">36</tspan><tspan x="357.8" y="231">35</tspan><tspan x="357.8" y="255.2">34</tspan><tspan x="357.8" y="276.9">33</tspan><tspan x="357.8" y="303.2">32</tspan><tspan x="357.8" y="325.9">31</tspan><tspan x="357.8" y="349.2">30</tspan><tspan x="357.8" y="373.2">29</tspan><tspan x="357.8" y="396.9">28</tspan><tspan x="357.8" y="419.6">27</tspan><tspan x="357.8" y="441.4">26</tspan><tspan x="357.8" y="466.9">25</tspan><tspan x="357.8" y="490.9">24</tspan><tspan x="357.8" y="513.2">23</tspan><tspan x="357.8" y="538.2">22</tspan><tspan x="357.8" y="559.2">21</tspan><tspan x="357.8" y="583.3">20</tspan><tspan x="357.8" y="606.8">19</tspan><tspan x="357.8" y="630.5">18</tspan><tspan x="357.8" y="655.1">17</tspan><tspan x="357.8" y="679.1">16</tspan><tspan x="357.8" y="700.5">15</tspan><tspan x="357.8" y="723.2">14</tspan><tspan x="357.8" y="747.8">13</tspan><tspan x="357.8" y="771.8">12</tspan><tspan x="357.8" y="794.1">11</tspan><tspan x="357.8" y="818.8">10</tspan><tspan x="357.8" y="841.5">9</tspan><tspan x="357.8" y="865.9">8</tspan><tspan x="357.8" y="889.1">7</tspan><tspan x="357.8" y="911.9">6</tspan><tspan x="357.8" y="935.1">5</tspan><tspan x="357.8" y="959.2">4</tspan><tspan x="357.8" y="981.8">3</tspan><tspan x="357.8" y="1006.4">2</tspan><tspan x="357.8" y="1031">1</tspan></text>
<text x="187.7" y="29.7" class="tu" >42 U</text>
<path d="M397 58.7H430.4M397 203.5H430.4M397 227.1H430.4M397 250.7H430.4M397 274.5H430.4M397 298.1H430.4M397 321.4H430.4M397 344.9H430.4M397 368.5H430.4M397 392H430.4M397 462.7H430.4M397 486.5H430.4M397 508.6H430.4M397 530.6H430.4M397 554.1H430.4M397 578.2H430.4M397 603.3H430.4M397 628.9H430.4M397 653.7H430.4M397 677.6H430.4M397 700.6H430.4M397 1050.3H430.4" stroke="#000" stroke-width="1.1"/>
<path d="M411 58.7V882M411 917V1050.3" stroke="#000" stroke-width=".9"/>
<path d="M411 59.1l-2.5 7h5zM411 203.1l-2.5 -7h5zM411 203.9l-2.5 7h5zM411 226.7l-2.5 -7h5zM411 227.5l-2.5 7h5zM411 250.3l-2.5 -7h5zM411 251.1l-2.5 7h5zM411 274.1l-2.5 -7h5zM411 274.9l-2.5 7h5zM411 297.7l-2.5 -7h5zM411 298.5l-2.5 7h5zM411 321l-2.5 -7h5zM411 321.8l-2.5 7h5zM411 344.5l-2.5 -7h5zM411 345.3l-2.5 7h5zM411 368.1l-2.5 -7h5zM411 368.9l-2.5 7h5zM411 391.6l-2.5 -7h5zM411 392.4l-2.5 7h5zM411 462.3l-2.5 -7h5zM411 463.1l-2.5 7h5zM411 486.1l-2.5 -7h5zM411 486.9l-2.5 7h5zM411 508.2l-2.5 -7h5zM411 509l-2.5 7h5zM411 530.2l-2.5 -7h5zM411 531l-2.5 7h5zM411 553.7l-2.5 -7h5zM411 554.5l-2.5 7h5zM411 577.8l-2.5 -7h5zM411 578.6l-2.5 7h5zM411 602.9l-2.5 -7h5zM411 603.7l-2.5 7h5zM411 628.5l-2.5 -7h5zM411 629.3l-2.5 7h5zM411 653.3l-2.5 -7h5zM411 654.1l-2.5 7h5zM411 677.2l-2.5 -7h5zM411 678l-2.5 7h5zM411 700.2l-2.5 -7h5zM411 701l-2.5 7h5zM411 1049.9l-2.5 -7h5z" fill="#000"/>
<text transform="translate(426.2 131.5) rotate(-90)" y="3.9" class="du" textLength="11.4" lengthAdjust="spacingAndGlyphs">6U</text>
<text transform="translate(440.6 427.5) rotate(-90)" y="3.9" class="du" textLength="11.4" lengthAdjust="spacingAndGlyphs">3U</text>
<path d="M411 427.3L433 427.3" stroke="#000" stroke-width="0.8" />
<path d="M411 216.5L432 214.7" stroke="#000" stroke-width="0.8" />
<text transform="translate(438.2 214.9) rotate(-90)" y="3.9" class="du" textLength="11.4" lengthAdjust="spacingAndGlyphs">1U</text>
<path d="M411 240.1L432 238.3" stroke="#000" stroke-width="0.8" />
<text transform="translate(438.2 238.5) rotate(-90)" y="3.9" class="du" textLength="11.4" lengthAdjust="spacingAndGlyphs">1U</text>
<path d="M411 263.8L432 262" stroke="#000" stroke-width="0.8" />
<text transform="translate(438.2 262.2) rotate(-90)" y="3.9" class="du" textLength="11.4" lengthAdjust="spacingAndGlyphs">1U</text>
<path d="M411 287.5L432 285.7" stroke="#000" stroke-width="0.8" />
<text transform="translate(438.2 285.9) rotate(-90)" y="3.9" class="du" textLength="11.4" lengthAdjust="spacingAndGlyphs">1U</text>
<path d="M411 310.9L432 309.1" stroke="#000" stroke-width="0.8" />
<text transform="translate(438.2 309.4) rotate(-90)" y="3.9" class="du" textLength="11.4" lengthAdjust="spacingAndGlyphs">1U</text>
<path d="M411 334.3L432 332.5" stroke="#000" stroke-width="0.8" />
<text transform="translate(438.2 332.8) rotate(-90)" y="3.9" class="du" textLength="11.4" lengthAdjust="spacingAndGlyphs">1U</text>
<path d="M411 357L433.5 357" stroke="#000" stroke-width="0.8" />
<text transform="translate(440.8 356.7) rotate(-90)" y="3.9" class="du" textLength="11.4" lengthAdjust="spacingAndGlyphs">1U</text>
<path d="M411 380.6L433.5 380.6" stroke="#000" stroke-width="0.8" />
<text transform="translate(440.8 380.2) rotate(-90)" y="3.9" class="du" textLength="11.4" lengthAdjust="spacingAndGlyphs">1U</text>
<path d="M411 475.8L432 474" stroke="#000" stroke-width="0.8" />
<text transform="translate(438.2 474.2) rotate(-90)" y="3.9" class="du" textLength="11.4" lengthAdjust="spacingAndGlyphs">1U</text>
<path d="M411 498.8L432 496.9" stroke="#000" stroke-width="0.8" />
<text transform="translate(438.2 497.2) rotate(-90)" y="3.9" class="du" textLength="11.4" lengthAdjust="spacingAndGlyphs">1U</text>
<path d="M411 520.8L432 519" stroke="#000" stroke-width="0.8" />
<text transform="translate(438.2 519.2) rotate(-90)" y="3.9" class="du" textLength="11.4" lengthAdjust="spacingAndGlyphs">1U</text>
<path d="M411 543.6L432 541.8" stroke="#000" stroke-width="0.8" />
<text transform="translate(438.2 542) rotate(-90)" y="3.9" class="du" textLength="11.4" lengthAdjust="spacingAndGlyphs">1U</text>
<path d="M411 567.4L432 565.6" stroke="#000" stroke-width="0.8" />
<text transform="translate(438.2 565.8) rotate(-90)" y="3.9" class="du" textLength="11.4" lengthAdjust="spacingAndGlyphs">1U</text>
<path d="M411 592L432 590.1" stroke="#000" stroke-width="0.8" />
<text transform="translate(438.2 590.4) rotate(-90)" y="3.9" class="du" textLength="11.4" lengthAdjust="spacingAndGlyphs">1U</text>
<path d="M411 617.3L432 615.5" stroke="#000" stroke-width="0.8" />
<text transform="translate(438.2 615.7) rotate(-90)" y="3.9" class="du" textLength="11.4" lengthAdjust="spacingAndGlyphs">1U</text>
<path d="M411 642.5L432 640.7" stroke="#000" stroke-width="0.8" />
<text transform="translate(438.2 640.9) rotate(-90)" y="3.9" class="du" textLength="11.4" lengthAdjust="spacingAndGlyphs">1U</text>
<path d="M411 666.9L432 665.1" stroke="#000" stroke-width="0.8" />
<text transform="translate(438.2 665.3) rotate(-90)" y="3.9" class="du" textLength="11.4" lengthAdjust="spacingAndGlyphs">1U</text>
<path d="M411 690.3L432 688.5" stroke="#000" stroke-width="0.8" />
<text transform="translate(438.2 688.7) rotate(-90)" y="3.9" class="du" textLength="11.4" lengthAdjust="spacingAndGlyphs">1U</text>
<text transform="translate(412.6 900.3) rotate(-90)" y="4.8" class="d13" >13U</text>
<path d="M447 58.7L456.4 58.7Q459.6 58.7 459.6 61.9L459.6 124.3Q459.6 128.3 463.6 128.3Q459.6 128.3 459.6 132.3L459.6 200.3Q459.6 203.5 456.4 203.5L447 203.5" fill="none" stroke="#d8403a" stroke-width="0.9"/>
<text x="498" y="127.87" class="rm">语音进线配</text>
<text x="498" y="141.47" class="rm">线架</text>
<path d="M444.5 203.5L455.8 203.5Q458.4 203.5 458.4 206.1L458.4 211.3Q458.4 215.3 462.4 215.3Q458.4 215.3 458.4 219.3L458.4 224.5Q458.4 227.1 455.8 227.1L444.5 227.1" fill="none" stroke="#d8403a" stroke-width="0.9"/>
<text x="472.4" y="220.27" class="rs">语音配线架</text>
<path d="M444.5 227.1L455.8 227.1Q458.4 227.1 458.4 229.7L458.4 234.9Q458.4 238.9 462.4 238.9Q458.4 238.9 458.4 242.9L458.4 248.1Q458.4 250.7 455.8 250.7L444.5 250.7" fill="none" stroke="#d8403a" stroke-width="0.9"/>
<text x="472.4" y="243.87" class="rs">理线架</text>
<path d="M444.5 250.7L455.8 250.7Q458.4 250.7 458.4 253.3L458.4 258.6Q458.4 262.6 462.4 262.6Q458.4 262.6 458.4 266.6L458.4 271.9Q458.4 274.5 455.8 274.5L444.5 274.5" fill="none" stroke="#d8403a" stroke-width="0.9"/>
<text x="472.4" y="267.57" class="rs">语音配线架</text>
<path d="M444.5 274.5L455.8 274.5Q458.4 274.5 458.4 277.1L458.4 282.3Q458.4 286.3 462.4 286.3Q458.4 286.3 458.4 290.3L458.4 295.5Q458.4 298.1 455.8 298.1L444.5 298.1" fill="none" stroke="#d8403a" stroke-width="0.9"/>
<text x="472.4" y="291.27" class="rs">语音配线架</text>
<path d="M444.5 298.1L455.8 298.1Q458.4 298.1 458.4 300.7L458.4 305.8Q458.4 309.8 462.4 309.8Q458.4 309.8 458.4 313.8L458.4 318.8Q458.4 321.4 455.8 321.4L444.5 321.4" fill="none" stroke="#d8403a" stroke-width="0.9"/>
<text x="472.4" y="314.72" class="rs">理线架</text>
<path d="M444.5 321.4L455.8 321.4Q458.4 321.4 458.4 324L458.4 329.1Q458.4 333.1 462.4 333.1Q458.4 333.1 458.4 337.1L458.4 342.3Q458.4 344.9 455.8 344.9L444.5 344.9" fill="none" stroke="#d8403a" stroke-width="0.9"/>
<text x="472.4" y="338.12" class="rs">语音配线架</text>
<path d="M444.5 344.9L455.8 344.9Q458.4 344.9 458.4 347.5L458.4 352.7Q458.4 356.7 462.4 356.7Q458.4 356.7 458.4 360.7L458.4 365.9Q458.4 368.5 455.8 368.5L444.5 368.5" fill="none" stroke="#d8403a" stroke-width="0.9"/>
<text x="472.4" y="361.67" class="rs">冗余空间</text>
<path d="M444.5 368.5L455.8 368.5Q458.4 368.5 458.4 371.1L458.4 376.2Q458.4 380.2 462.4 380.2Q458.4 380.2 458.4 384.2L458.4 389.4Q458.4 392 455.8 392L444.5 392" fill="none" stroke="#d8403a" stroke-width="0.9"/>
<text x="472.4" y="385.22" class="rs">防火墙</text>
<path d="M444.5 392L455.2 392Q458.4 392 458.4 395.2L458.4 423.4Q458.4 427.4 462.4 427.4Q458.4 427.4 458.4 431.4L458.4 459.5Q458.4 462.7 455.2 462.7L444.5 462.7" fill="none" stroke="#d8403a" stroke-width="0.9"/>
<text x="471.2" y="431.27" class="rs">路由器</text>
<path d="M444.5 462.7L455.8 462.7Q458.4 462.7 458.4 465.3L458.4 470.6Q458.4 474.6 462.4 474.6Q458.4 474.6 458.4 478.6L458.4 483.9Q458.4 486.5 455.8 486.5L444.5 486.5" fill="none" stroke="#d8403a" stroke-width="0.9"/>
<text x="472.4" y="479.57" class="rs">网络配线架</text>
<path d="M444.5 486.5L455.8 486.5Q458.4 486.5 458.4 489.1L458.4 493.6Q458.4 497.6 462.4 497.6Q458.4 497.6 458.4 501.6L458.4 506Q458.4 508.6 455.8 508.6L444.5 508.6" fill="none" stroke="#d8403a" stroke-width="0.9"/>
<text x="472.4" y="502.52" class="rs">理线架</text>
<path d="M444.5 508.6L455.8 508.6Q458.4 508.6 458.4 511.2L458.4 515.6Q458.4 519.6 462.4 519.6Q458.4 519.6 458.4 523.6L458.4 528Q458.4 530.6 455.8 530.6L444.5 530.6" fill="none" stroke="#d8403a" stroke-width="0.9"/>
<text x="469.4" y="524.57" class="rs">网络交换机2</text>
<path d="M444.5 530.6L455.8 530.6Q458.4 530.6 458.4 533.2L458.4 538.4Q458.4 542.4 462.4 542.4Q458.4 542.4 458.4 546.4L458.4 551.5Q458.4 554.1 455.8 554.1L444.5 554.1" fill="none" stroke="#d8403a" stroke-width="0.9"/>
<text x="472.4" y="547.32" class="rs">理线架</text>
<path d="M444.5 554.1L455.8 554.1Q458.4 554.1 458.4 556.7L458.4 562.2Q458.4 566.2 462.4 566.2Q458.4 566.2 458.4 570.2L458.4 575.6Q458.4 578.2 455.8 578.2L444.5 578.2" fill="none" stroke="#d8403a" stroke-width="0.9"/>
<text x="472.4" y="571.12" class="rs">网络配线架</text>
<path d="M444.5 578.2L455.8 578.2Q458.4 578.2 458.4 580.8L458.4 586.8Q458.4 590.8 462.4 590.8Q458.4 590.8 458.4 594.8L458.4 600.7Q458.4 603.3 455.8 603.3L444.5 603.3" fill="none" stroke="#d8403a" stroke-width="0.9"/>
<text x="472.4" y="595.72" class="rs">网络配线架</text>
<path d="M444.5 603.3L455.8 603.3Q458.4 603.3 458.4 605.9L458.4 612.1Q458.4 616.1 462.4 616.1Q458.4 616.1 458.4 620.1L458.4 626.3Q458.4 628.9 455.8 628.9L444.5 628.9" fill="none" stroke="#d8403a" stroke-width="0.9"/>
<text x="472.4" y="621.07" class="rs">理线架</text>
<path d="M444.5 628.9L455.8 628.9Q458.4 628.9 458.4 631.5L458.4 637.3Q458.4 641.3 462.4 641.3Q458.4 641.3 458.4 645.3L458.4 651.1Q458.4 653.7 455.8 653.7L444.5 653.7" fill="none" stroke="#d8403a" stroke-width="0.9"/>
<text x="472.4" y="646.27" class="rs">网络配线架</text>
<path d="M444.5 653.7L455.8 653.7Q458.4 653.7 458.4 656.3L458.4 661.7Q458.4 665.7 462.4 665.7Q458.4 665.7 458.4 669.7L458.4 675Q458.4 677.6 455.8 677.6L444.5 677.6" fill="none" stroke="#d8403a" stroke-width="0.9"/>
<text x="472.4" y="670.62" class="rs">光纤配线架</text>
<path d="M444.5 677.6L455.8 677.6Q458.4 677.6 458.4 680.2L458.4 685.1Q458.4 689.1 462.4 689.1Q458.4 689.1 458.4 693.1L458.4 698Q458.4 700.6 455.8 700.6L444.5 700.6" fill="none" stroke="#d8403a" stroke-width="0.9"/>
<text x="472.4" y="694.07" class="rs">光纤配线架</text>
<path d="M444.5 700.6L455.8 700.6Q458.4 700.6 458.4 703.2L458.4 708.1Q458.4 712.1 462.4 712.1Q458.4 712.1 458.4 716.1L458.4 721Q458.4 723.6 455.8 723.6L444.5 723.6" fill="none" stroke="#d8403a" stroke-width="0.9"/>
<text x="503.7" y="717.67" class="rm">无线/有线交</text>
<text x="503.7" y="729.67" class="rm">换机</text>
<path d="M444.5 723.6L455.8 723.6Q458.4 723.6 458.4 726.2L458.4 730.9Q458.4 734.9 462.4 734.9Q458.4 734.9 458.4 738.9L458.4 743.6Q458.4 746.2 455.8 746.2L444.5 746.2" fill="none" stroke="#d8403a" stroke-width="0.9"/>
<text x="503.7" y="744.07" class="rm">POE交换机</text>
<path d="M442.5 746.2L455.2 746.2Q458.4 746.2 458.4 749.4L458.4 832.9Q458.4 838.5 464 838.5Q458.4 838.5 458.4 844.1L458.4 1047.1Q458.4 1050.3 455.2 1050.3L442.5 1050.3" fill="none" stroke="#d8403a" stroke-width="0.9"/>
<text x="473.6" y="845.87" class="rs">核心交换机</text>
<path d="M414.5 778.2L420.4 778.2Q422.8 778.2 422.8 780.6L422.8 785.9Q422.8 789.7 426.6 789.7Q422.8 789.7 422.8 793.5L422.8 798.8Q422.8 801.2 420.4 801.2L414.5 801.2" fill="none" stroke="#d8403a" stroke-width="0.9"/>
<path d="M414.5 801.2L420.4 801.2Q422.8 801.2 422.8 803.6L422.8 809.5Q422.8 813.2 426.6 813.2Q422.8 813.2 422.8 817L422.8 822.9Q422.8 825.3 420.4 825.3L414.5 825.3" fill="none" stroke="#d8403a" stroke-width="0.9"/>
<text x="441.3" y="789.13" class="r9">24光口</text>
<text x="441.3" y="799.53" class="r9">业务板</text>
<text x="441.3" y="812.53" class="r9">48电口</text>
<text x="441.3" y="822.93" class="r9">业务板</text>
<path d="M392.3 297.2H375.1M379.5 291.6L374.1 297.2L379.5 302.8" fill="none" stroke="#1f5a88" stroke-width="3.1"/>
<text x="390.6" y="296.39" class="gb">隔</text>
<text x="390.6" y="311.29" class="gb">板</text>
<path d="M396.3 457.6H377.3M381.7 452L376.3 457.6L381.7 463.2" fill="none" stroke="#1f5a88" stroke-width="3.1"/>
<text x="394.6" y="456.79" class="gb">隔</text>
<text x="394.6" y="471.69" class="gb">板</text>
<path d="M396.3 531.4H378.3M382.7 525.8L377.3 531.4L382.7 537" fill="none" stroke="#1f5a88" stroke-width="3.1"/>
<text x="394.6" y="530.59" class="gb">隔</text>
<text x="394.6" y="545.49" class="gb">板</text>
<use href="#sw" transform="translate(0 41.6)"/>
<text transform="translate(627.6 64.9) rotate(-90)" y="2.9" class="sd" >D71</text>
<text transform="translate(627.6 77.5) rotate(-90)" y="2.9" class="sd" >D70</text>
<text transform="translate(627.6 90) rotate(-90)" y="2.9" class="sd" >D69</text>
<text transform="translate(563.2 101) rotate(-90)" y="2.9" class="sd" >D92</text>
<text transform="translate(627.6 102.6) rotate(-90)" y="2.9" class="sd" >D68</text>
<text transform="translate(563.2 113.6) rotate(-90)" y="2.9" class="sd" >D91</text>
<text transform="translate(627.6 115.2) rotate(-90)" y="2.9" class="sd" >D67</text>
<text transform="translate(563.2 126.2) rotate(-90)" y="2.9" class="sd" >D90</text>
<text transform="translate(627.6 127.8) rotate(-90)" y="2.9" class="sd" >D66</text>
<text transform="translate(563.2 138.7) rotate(-90)" y="2.9" class="sd" >D89</text>
<text transform="translate(627.6 140.3) rotate(-90)" y="2.9" class="sd" >D65</text>
<text transform="translate(563.2 151.3) rotate(-90)" y="2.9" class="sd" >D88</text>
<text transform="translate(627.6 152.9) rotate(-90)" y="2.9" class="sd" >D64</text>
<text transform="translate(563.2 166.6) rotate(-90)" y="2.9" class="sd" >D87</text>
<text transform="translate(627.6 168.2) rotate(-90)" y="2.9" class="sd" >D63</text>
<text transform="translate(563.2 179.2) rotate(-90)" y="2.9" class="sd" >D86</text>
<text transform="translate(627.6 180.8) rotate(-90)" y="2.9" class="sd" >D62</text>
<text transform="translate(563.2 191.7) rotate(-90)" y="2.9" class="sd" >D85</text>
<text transform="translate(627.6 193.3) rotate(-90)" y="2.9" class="sd" >D61</text>
<text transform="translate(563.2 204.3) rotate(-90)" y="2.9" class="sd" >D84</text>
<text transform="translate(627.6 205.9) rotate(-90)" y="2.9" class="sd" >D60</text>
<text transform="translate(563.2 216.9) rotate(-90)" y="2.9" class="sd" >D83</text>
<text transform="translate(627.6 218.5) rotate(-90)" y="2.9" class="sd" >D59</text>
<text transform="translate(563.2 229.4) rotate(-90)" y="2.9" class="sd" >D82</text>
<text transform="translate(627.6 231) rotate(-90)" y="2.9" class="sd" >D58</text>
<text transform="translate(563.2 242) rotate(-90)" y="2.9" class="sd" >D81</text>
<text transform="translate(627.6 243.6) rotate(-90)" y="2.9" class="sd" >D57</text>
<text transform="translate(563.2 254.6) rotate(-90)" y="2.9" class="sd" >D80</text>
<text transform="translate(627.6 256.2) rotate(-90)" y="2.9" class="sd" >D56</text>
<text transform="translate(563.2 270.6) rotate(-90)" y="2.9" class="sd" >D79</text>
<text transform="translate(627.6 272.2) rotate(-90)" y="2.9" class="sd" >D55</text>
<text transform="translate(563.2 283.2) rotate(-90)" y="2.9" class="sd" >D78</text>
<text transform="translate(627.6 284.8) rotate(-90)" y="2.9" class="sd" >D54</text>
<text transform="translate(563.2 295.7) rotate(-90)" y="2.9" class="sd" >D77</text>
<text transform="translate(627.6 297.3) rotate(-90)" y="2.9" class="sd" >D53</text>
<text transform="translate(563.2 308.3) rotate(-90)" y="2.9" class="sd" >D76</text>
<text transform="translate(627.6 309.9) rotate(-90)" y="2.9" class="sd" >D52</text>
<text transform="translate(563.2 320.9) rotate(-90)" y="2.9" class="sd" >D75</text>
<text transform="translate(627.6 322.5) rotate(-90)" y="2.9" class="sd" >D51</text>
<text transform="translate(563.2 333.5) rotate(-90)" y="2.9" class="sd" >D74</text>
<text transform="translate(627.6 335.1) rotate(-90)" y="2.9" class="sd" >D50</text>
<text transform="translate(563.2 346) rotate(-90)" y="2.9" class="sd" >D73</text>
<text transform="translate(627.6 347.6) rotate(-90)" y="2.9" class="sd" >D49</text>
<text transform="translate(563.2 358.6) rotate(-90)" y="2.9" class="sd" >D72</text>
<text transform="translate(627.6 360.2) rotate(-90)" y="2.9" class="sd" >D48</text>
<text transform="translate(650.4 251.4) rotate(-90)" class="cj" font-size="11" fill="#d8202a" textLength="59.3" lengthAdjust="spacingAndGlyphs">网络交换机2</text>
<use href="#sw" transform="translate(0 512)"/>
<text transform="translate(627.6 535.3) rotate(-90)" y="2.9" class="sd" >D24</text>
<text transform="translate(563.2 546.3) rotate(-90)" y="2.9" class="sd" >D47</text>
<text transform="translate(627.6 547.9) rotate(-90)" y="2.9" class="sd" >D23</text>
<text transform="translate(563.2 558.8) rotate(-90)" y="2.9" class="sd" >D46</text>
<text transform="translate(627.6 560.4) rotate(-90)" y="2.9" class="sd" >D22</text>
<text transform="translate(563.2 571.4) rotate(-90)" y="2.9" class="sd" >D45</text>
<text transform="translate(627.6 573) rotate(-90)" y="2.9" class="sd" >D21</text>
<text transform="translate(563.2 584) rotate(-90)" y="2.9" class="sd" >D44</text>
<text transform="translate(627.6 585.6) rotate(-90)" y="2.9" class="sd" >D20</text>
<text transform="translate(563.2 596.6) rotate(-90)" y="2.9" class="sd" >D43</text>
<text transform="translate(627.6 598.2) rotate(-90)" y="2.9" class="sd" >D19</text>
<text transform="translate(563.2 609.1) rotate(-90)" y="2.9" class="sd" >D42</text>
<text transform="translate(627.6 610.7) rotate(-90)" y="2.9" class="sd" >D18</text>
<text transform="translate(563.2 621.7) rotate(-90)" y="2.9" class="sd" >D41</text>
<text transform="translate(627.6 623.3) rotate(-90)" y="2.9" class="sd" >D17</text>
<text transform="translate(563.2 637) rotate(-90)" y="2.9" class="sd" >D40</text>
<text transform="translate(627.6 638.6) rotate(-90)" y="2.9" class="sd" >D16</text>
<text transform="translate(563.2 649.6) rotate(-90)" y="2.9" class="sd" >D39</text>
<text transform="translate(627.6 651.2) rotate(-90)" y="2.9" class="sd" >D15</text>
<text transform="translate(563.2 662.1) rotate(-90)" y="2.9" class="sd" >D38</text>
<text transform="translate(627.6 663.7) rotate(-90)" y="2.9" class="sd" >D14</text>
<text transform="translate(563.2 674.7) rotate(-90)" y="2.9" class="sd" >D37</text>
<text transform="translate(627.6 676.3) rotate(-90)" y="2.9" class="sd" >D13</text>
<text transform="translate(563.2 687.3) rotate(-90)" y="2.9" class="sd" >D36</text>
<text transform="translate(627.6 688.9) rotate(-90)" y="2.9" class="sd" >D12</text>
<text transform="translate(563.2 699.9) rotate(-90)" y="2.9" class="sd" >D35</text>
<text transform="translate(627.6 701.5) rotate(-90)" y="2.9" class="sd" >D11</text>
<text transform="translate(563.2 712.4) rotate(-90)" y="2.9" class="sd" >D34</text>
<text transform="translate(627.6 714) rotate(-90)" y="2.9" class="sd" >D10</text>
<text transform="translate(563.2 725) rotate(-90)" y="2.9" class="sd" >D33</text>
<text transform="translate(627.6 726.6) rotate(-90)" y="2.9" class="sd" >D09</text>
<text transform="translate(563.2 741) rotate(-90)" y="2.9" class="sd" >D32</text>
<text transform="translate(627.6 742.6) rotate(-90)" y="2.9" class="sd" >D08</text>
<text transform="translate(563.2 753.6) rotate(-90)" y="2.9" class="sd" >D31</text>
<text transform="translate(627.6 755.2) rotate(-90)" y="2.9" class="sd" >D07</text>
<text transform="translate(563.2 766.1) rotate(-90)" y="2.9" class="sd" >D30</text>
<text transform="translate(627.6 767.7) rotate(-90)" y="2.9" class="sd" >D06</text>
<text transform="translate(563.2 778.7) rotate(-90)" y="2.9" class="sd" >D29</text>
<text transform="translate(627.6 780.3) rotate(-90)" y="2.9" class="sd" >D05</text>
<text transform="translate(563.2 791.3) rotate(-90)" y="2.9" class="sd" >D28</text>
<text transform="translate(627.6 792.9) rotate(-90)" y="2.9" class="sd" >D04</text>
<text transform="translate(563.2 803.9) rotate(-90)" y="2.9" class="sd" >D27</text>
<text transform="translate(627.6 805.5) rotate(-90)" y="2.9" class="sd" >D03</text>
<text transform="translate(563.2 816.4) rotate(-90)" y="2.9" class="sd" >D26</text>
<text transform="translate(627.6 818) rotate(-90)" y="2.9" class="sd" >D02</text>
<text transform="translate(563.2 829) rotate(-90)" y="2.9" class="sd" >D25</text>
<text transform="translate(627.6 830.6) rotate(-90)" y="2.9" class="sd" >D01</text>
<text transform="translate(650.4 699.4) rotate(-90)" class="cj" font-size="11" fill="#d8202a" textLength="109.2" lengthAdjust="spacingAndGlyphs">网络交换机1(业务面板)</text>
<text x="491.4" y="1088.1" class="cj" font-size="10.75" fill="#111" style="text-anchor:start">本图为安装位置示意，设备外观可能与实际不同</text>
</svg>
</body></html>
